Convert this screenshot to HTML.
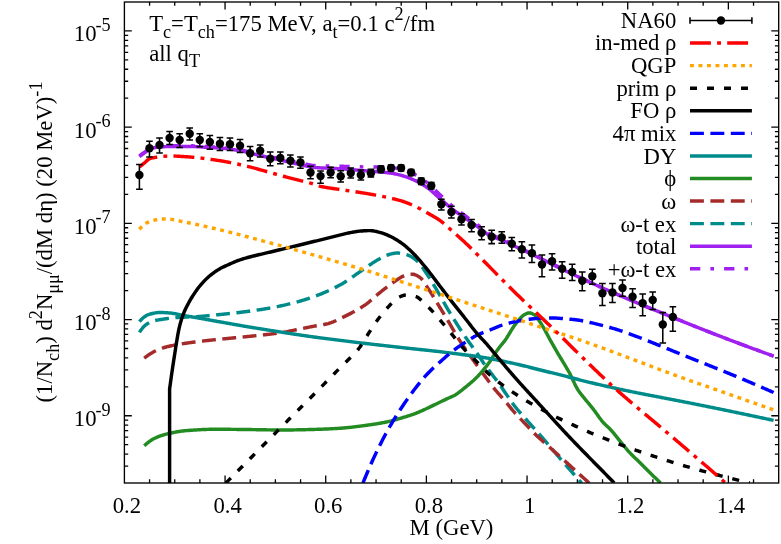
<!DOCTYPE html>
<html><head><meta charset="utf-8"><title>plot</title>
<style>
html,body{margin:0;padding:0;background:#fff;}
body{width:781px;height:544px;overflow:hidden;}
svg{display:block;will-change:transform;}
text{font-family:"Liberation Serif",serif;font-size:22.7px;fill:#000;}
.c{fill:none;stroke-width:3.45;stroke-linejoin:round;stroke-linecap:butt;}
</style></head><body>
<svg width="781" height="544" viewBox="0 0 781 544">
<rect x="0" y="0" width="781" height="544" fill="#fff"/>
<defs><clipPath id="cp"><rect x="124.4" y="2.0" width="654.3000000000001" height="481.0"/></clipPath></defs>

<path d="M149.57,483.0v-3.8 M149.57,2.0v3.8 M174.73,483.0v-3.8 M174.73,2.0v3.8 M199.90,483.0v-3.8 M199.90,2.0v3.8 M225.06,483.0v-7.4 M225.06,2.0v7.4 M250.23,483.0v-3.8 M250.23,2.0v3.8 M275.39,483.0v-3.8 M275.39,2.0v3.8 M300.56,483.0v-3.8 M300.56,2.0v3.8 M325.72,483.0v-7.4 M325.72,2.0v7.4 M350.89,483.0v-3.8 M350.89,2.0v3.8 M376.05,483.0v-3.8 M376.05,2.0v3.8 M401.22,483.0v-3.8 M401.22,2.0v3.8 M426.38,483.0v-7.4 M426.38,2.0v7.4 M451.55,483.0v-3.8 M451.55,2.0v3.8 M476.72,483.0v-3.8 M476.72,2.0v3.8 M501.88,483.0v-3.8 M501.88,2.0v3.8 M527.05,483.0v-7.4 M527.05,2.0v7.4 M552.21,483.0v-3.8 M552.21,2.0v3.8 M577.38,483.0v-3.8 M577.38,2.0v3.8 M602.54,483.0v-3.8 M602.54,2.0v3.8 M627.71,483.0v-7.4 M627.71,2.0v7.4 M652.87,483.0v-3.8 M652.87,2.0v3.8 M678.04,483.0v-3.8 M678.04,2.0v3.8 M703.20,483.0v-3.8 M703.20,2.0v3.8 M728.37,483.0v-7.4 M728.37,2.0v7.4 M753.53,483.0v-3.8 M753.53,2.0v3.8 M124.4,466.06h3.8 M778.7,466.06h-3.8 M124.4,454.04h3.8 M778.7,454.04h-3.8 M124.4,444.72h3.8 M778.7,444.72h-3.8 M124.4,437.10h3.8 M778.7,437.10h-3.8 M124.4,430.66h3.8 M778.7,430.66h-3.8 M124.4,425.08h3.8 M778.7,425.08h-3.8 M124.4,420.16h3.8 M778.7,420.16h-3.8 M124.4,415.76h7.4 M778.7,415.76h-7.4 M124.4,386.80h3.8 M778.7,386.80h-3.8 M124.4,369.86h3.8 M778.7,369.86h-3.8 M124.4,357.84h3.8 M778.7,357.84h-3.8 M124.4,348.52h3.8 M778.7,348.52h-3.8 M124.4,340.90h3.8 M778.7,340.90h-3.8 M124.4,334.46h3.8 M778.7,334.46h-3.8 M124.4,328.88h3.8 M778.7,328.88h-3.8 M124.4,323.96h3.8 M778.7,323.96h-3.8 M124.4,319.56h7.4 M778.7,319.56h-7.4 M124.4,290.60h3.8 M778.7,290.60h-3.8 M124.4,273.66h3.8 M778.7,273.66h-3.8 M124.4,261.64h3.8 M778.7,261.64h-3.8 M124.4,252.32h3.8 M778.7,252.32h-3.8 M124.4,244.70h3.8 M778.7,244.70h-3.8 M124.4,238.26h3.8 M778.7,238.26h-3.8 M124.4,232.68h3.8 M778.7,232.68h-3.8 M124.4,227.76h3.8 M778.7,227.76h-3.8 M124.4,223.36h7.4 M778.7,223.36h-7.4 M124.4,194.40h3.8 M778.7,194.40h-3.8 M124.4,177.46h3.8 M778.7,177.46h-3.8 M124.4,165.44h3.8 M778.7,165.44h-3.8 M124.4,156.12h3.8 M778.7,156.12h-3.8 M124.4,148.50h3.8 M778.7,148.50h-3.8 M124.4,142.06h3.8 M778.7,142.06h-3.8 M124.4,136.48h3.8 M778.7,136.48h-3.8 M124.4,131.56h3.8 M778.7,131.56h-3.8 M124.4,127.16h7.4 M778.7,127.16h-7.4 M124.4,98.20h3.8 M778.7,98.20h-3.8 M124.4,81.26h3.8 M778.7,81.26h-3.8 M124.4,69.24h3.8 M778.7,69.24h-3.8 M124.4,59.92h3.8 M778.7,59.92h-3.8 M124.4,52.30h3.8 M778.7,52.30h-3.8 M124.4,45.86h3.8 M778.7,45.86h-3.8 M124.4,40.28h3.8 M778.7,40.28h-3.8 M124.4,35.36h3.8 M778.7,35.36h-3.8 M124.4,30.96h7.4 M778.7,30.96h-7.4" stroke="#000" stroke-width="1.3" fill="none"/>
<g clip-path="url(#cp)">
<path class="c" d="M139.40,155.98 L140.40,155.23 L141.40,154.48 L142.40,153.73 L143.40,153.00 L144.40,152.27 L145.40,151.55 L146.40,150.76 L147.40,149.97 L148.40,149.24 L149.40,148.62 L150.40,148.19 L151.40,147.83 L152.40,147.53 L153.40,147.26 L154.40,147.05 L155.40,146.87 L156.40,146.72 L157.40,146.59 L158.40,146.48 L159.40,146.38 L160.40,146.30 L161.40,146.23 L162.40,146.16 L163.40,146.09 L164.40,146.02 L165.40,145.96 L166.40,145.91 L167.40,145.87 L168.40,145.84 L169.40,145.82 L170.40,145.82 L171.40,145.82 L172.40,145.82 L173.40,145.81 L174.40,145.81 L175.40,145.81 L176.40,145.81 L177.40,145.81 L178.40,145.81 L179.40,145.81 L180.40,145.81 L181.40,145.81 L182.40,145.80 L183.40,145.80 L184.40,145.80 L185.40,145.80 L186.40,145.80 L187.40,145.80 L188.40,145.80 L189.40,145.80 L190.40,145.80 L191.40,145.81 L192.40,145.82 L193.40,145.85 L194.40,145.88 L195.40,145.92 L196.40,145.96 L197.40,146.01 L198.40,146.07 L199.40,146.12 L200.40,146.18 L201.40,146.25 L202.40,146.31 L203.40,146.37 L204.40,146.44 L205.40,146.50 L206.40,146.56 L207.40,146.62 L208.40,146.68 L209.40,146.73 L210.40,146.78 L211.40,146.82 L212.40,146.86 L213.40,146.90 L214.40,146.94 L215.40,146.99 L216.40,147.03 L217.40,147.08 L218.40,147.13 L219.40,147.19 L220.40,147.26 L221.40,147.33 L222.40,147.42 L223.40,147.51 L224.40,147.61 L225.40,147.72 L226.40,147.84 L227.40,147.96 L228.40,148.09 L229.40,148.22 L230.40,148.36 L231.40,148.51 L232.40,148.66 L233.40,148.81 L234.40,148.97 L235.40,149.12 L236.40,149.29 L237.40,149.45 L238.40,149.62 L239.40,149.79 L240.40,149.95 L241.40,150.13 L242.40,150.32 L243.40,150.53 L244.40,150.74 L245.40,150.96 L246.40,151.18 L247.40,151.42 L248.40,151.65 L249.40,151.90 L250.40,152.14 L251.40,152.39 L252.40,152.64 L253.40,152.89 L254.40,153.14 L255.40,153.39 L256.40,153.63 L257.40,153.87 L258.40,154.11 L259.40,154.33 L260.40,154.56 L261.40,154.78 L262.40,155.00 L263.40,155.22 L264.40,155.43 L265.40,155.65 L266.40,155.86 L267.40,156.08 L268.40,156.29 L269.40,156.51 L270.40,156.72 L271.40,156.93 L272.40,157.14 L273.40,157.36 L274.40,157.57 L275.40,157.78 L276.40,157.99 L277.40,158.20 L278.40,158.41 L279.40,158.62 L280.40,158.84 L281.40,159.05 L282.40,159.26 L283.40,159.48 L284.40,159.69 L285.40,159.91 L286.40,160.12 L287.40,160.34 L288.40,160.55 L289.40,160.77 L290.40,160.98 L291.40,161.19 L292.40,161.40 L293.40,161.61 L294.40,161.82 L295.40,162.03 L296.40,162.23 L297.40,162.43 L298.40,162.63 L299.40,162.83 L300.40,163.02 L301.40,163.22 L302.40,163.43 L303.40,163.65 L304.40,163.87 L305.40,164.08 L306.40,164.30 L307.40,164.51 L308.40,164.71 L309.40,164.89 L310.40,165.07 L311.40,165.23 L312.40,165.37 L313.40,165.49 L314.40,165.58 L315.40,165.65 L316.40,165.71 L317.40,165.76 L318.40,165.81 L319.40,165.85 L320.40,165.89 L321.40,165.92 L322.40,165.95 L323.40,165.98 L324.40,166.00 L325.40,166.02 L326.40,166.03 L327.40,166.05 L328.40,166.06 L329.40,166.08 L330.40,166.09 L331.40,166.10 L332.40,166.11 L333.40,166.12 L334.40,166.14 L335.40,166.15 L336.40,166.17 L337.40,166.18 L338.40,166.20 L339.40,166.23 L340.40,166.25 L341.40,166.28 L342.40,166.31 L343.40,166.34 L344.40,166.36 L345.40,166.39 L346.40,166.42 L347.40,166.45 L348.40,166.48 L349.40,166.51 L350.40,166.54 L351.40,166.57 L352.40,166.60 L353.40,166.63 L354.40,166.66 L355.40,166.68 L356.40,166.71 L357.40,166.74 L358.40,166.76 L359.40,166.79 L360.40,166.81 L361.40,166.83 L362.40,166.85 L363.40,166.87 L364.40,166.88 L365.40,166.89 L366.40,166.90 L367.40,166.91 L368.40,166.91 L369.40,166.92 L370.40,166.92 L371.40,166.92 L372.40,166.93 L373.40,166.93 L374.40,166.94 L375.40,166.95 L376.40,166.96 L377.40,166.98 L378.40,166.99 L379.40,167.01 L380.40,167.02 L381.40,167.03 L382.40,167.05 L383.40,167.06 L384.40,167.09 L385.40,167.12 L386.40,167.17 L387.40,167.23 L388.40,167.29 L389.40,167.37 L390.40,167.46 L391.40,167.55 L392.40,167.67 L393.40,167.80 L394.40,167.95 L395.40,168.11 L396.40,168.30 L397.40,168.49 L398.40,168.71 L399.40,168.94 L400.40,169.18 L401.40,169.43 L402.40,169.70 L403.40,169.98 L404.40,170.28 L405.40,170.60 L406.40,170.93 L407.40,171.28 L408.40,171.65 L409.40,172.04 L410.40,172.45 L411.40,172.88 L412.40,173.34 L413.40,173.80 L414.40,174.29 L415.40,174.79 L416.40,175.31 L417.40,175.86 L418.40,176.43 L419.40,177.04 L420.40,177.69 L421.40,178.36 L422.40,179.06 L423.40,179.79 L424.40,180.53 L425.40,181.29 L426.40,182.06 L427.40,182.84 L428.40,183.64 L429.40,184.49 L430.40,185.38 L431.40,186.31 L432.40,187.26 L433.40,188.23 L434.40,189.21 L435.40,190.20 L436.40,191.20 L437.40,192.18 L438.40,193.16 L439.40,194.12 L440.40,195.06 L441.40,196.01 L442.40,196.95 L443.40,197.90 L444.40,198.85 L445.40,199.80 L446.40,200.73 L447.40,201.66 L448.40,202.58 L449.40,203.48 L450.40,204.36 L451.40,205.22 L452.40,206.07 L453.40,206.89 L454.40,207.69 L455.40,208.48 L456.40,209.25 L457.40,210.01 L458.40,210.76 L459.40,211.50 L460.40,212.23 L461.40,212.97 L462.40,213.70 L463.40,214.43 L464.40,215.17 L465.40,215.91 L466.40,216.65 L467.40,217.38 L468.40,218.12 L469.40,218.85 L470.40,219.58 L471.40,220.31 L472.40,221.03 L473.40,221.76 L474.40,222.49 L475.40,223.22 L476.40,223.95 L477.40,224.69 L478.40,225.44 L479.40,226.22 L480.40,227.01 L481.40,227.82 L482.40,228.64 L483.40,229.44 L484.40,230.23 L485.40,231.00 L486.40,231.74 L487.40,232.44 L488.40,233.09 L489.40,233.69 L490.40,234.23 L491.40,234.73 L492.40,235.19 L493.40,235.62 L494.40,236.03 L495.40,236.42 L496.40,236.80 L497.40,237.18 L498.40,237.55 L499.40,237.94 L500.40,238.33 L501.40,238.75 L502.40,239.18 L503.40,239.65 L504.40,240.12 L505.40,240.60 L506.40,241.10 L507.40,241.60 L508.40,242.11 L509.40,242.62 L510.40,243.13 L511.40,243.64 L512.40,244.15 L513.40,244.66 L514.40,245.16 L515.40,245.65 L516.40,246.15 L517.40,246.64 L518.40,247.12 L519.40,247.61 L520.40,248.10 L521.40,248.58 L522.40,249.07 L523.40,249.56 L524.40,250.04 L525.40,250.53 L526.40,251.01 L527.40,251.50 L528.40,251.98 L529.40,252.47 L530.40,252.96 L531.40,253.44 L532.40,253.93 L533.40,254.42 L534.40,254.90 L535.40,255.39 L536.40,255.88 L537.40,256.37 L538.40,256.86 L539.40,257.35 L540.40,257.85 L541.40,258.34 L542.40,258.84 L543.40,259.34 L544.40,259.84 L545.40,260.34 L546.40,260.84 L547.40,261.34 L548.40,261.85 L549.40,262.35 L550.40,262.85 L551.40,263.36 L552.40,263.86 L553.40,264.37 L554.40,264.87 L555.40,265.38 L556.40,265.88 L557.40,266.38 L558.40,266.88 L559.40,267.38 L560.40,267.88 L561.40,268.37 L562.40,268.87 L563.40,269.36 L564.40,269.85 L565.40,270.33 L566.40,270.82 L567.40,271.31 L568.40,271.79 L569.40,272.27 L570.40,272.76 L571.40,273.24 L572.40,273.72 L573.40,274.20 L574.40,274.68 L575.40,275.16 L576.40,275.63 L577.40,276.11 L578.40,276.58 L579.40,277.06 L580.40,277.53 L581.40,278.00 L582.40,278.47 L583.40,278.94 L584.40,279.41 L585.40,279.88 L586.40,280.64 L587.40,281.10 L588.40,281.56 L589.40,282.02 L590.40,282.47 L591.40,282.93 L592.40,283.39 L593.40,283.84 L594.40,284.30 L595.40,284.75 L596.40,285.20 L597.40,285.65 L598.40,286.11 L599.40,286.56 L600.40,287.00 L601.40,287.45 L602.40,287.90 L603.40,288.35 L604.40,288.79 L605.40,289.24 L606.40,289.68 L607.40,290.12 L608.40,290.56 L609.40,291.01 L610.40,291.45 L611.40,291.88 L612.40,292.32 L613.40,292.76 L614.40,293.20 L615.40,293.63 L616.40,294.07 L617.40,294.50 L618.40,294.93 L619.40,295.37 L620.40,295.80 L621.40,296.23 L622.40,296.66 L623.40,297.09 L624.40,297.51 L625.40,297.94 L626.40,298.37 L627.40,298.79 L628.40,299.22 L629.40,299.64 L630.40,300.06 L631.40,300.49 L632.40,300.91 L633.40,301.33 L634.40,301.75 L635.40,302.17 L636.40,302.58 L637.40,303.00 L638.40,303.42 L639.40,303.84 L640.40,304.25 L641.40,304.66 L642.40,305.08 L643.40,305.49 L644.40,305.90 L645.40,306.31 L646.40,306.71 L647.40,307.12 L648.40,307.53 L649.40,307.93 L650.40,308.34 L651.40,308.74 L652.40,309.15 L653.40,309.55 L654.40,309.95 L655.40,310.36 L656.40,310.76 L657.40,311.17 L658.40,311.57 L659.40,311.97 L660.40,312.38 L661.40,312.79 L662.40,313.19 L663.40,313.60 L664.40,314.01 L665.40,314.41 L666.40,314.82 L667.40,315.23 L668.40,315.64 L669.40,316.04 L670.40,316.45 L671.40,316.86 L672.40,317.26 L673.40,317.67 L674.40,318.08 L675.40,318.49 L676.40,318.89 L677.40,319.30 L678.40,319.70 L679.40,320.11 L680.40,320.51 L681.40,320.92 L682.40,321.32 L683.40,321.73 L684.40,322.13 L685.40,322.53 L686.40,322.93 L687.40,323.33 L688.40,323.74 L689.40,324.14 L690.40,324.54 L691.40,324.94 L692.40,325.34 L693.40,325.74 L694.40,326.14 L695.40,326.54 L696.40,326.94 L697.40,327.34 L698.40,327.74 L699.40,328.13 L700.40,328.53 L701.40,328.93 L702.40,329.32 L703.40,329.72 L704.40,330.12 L705.40,330.51 L706.40,330.90 L707.40,331.30 L708.40,331.69 L709.40,332.08 L710.40,332.47 L711.40,332.86 L712.40,333.25 L713.40,333.64 L714.40,334.03 L715.40,334.42 L716.40,334.81 L717.40,335.19 L718.40,335.58 L719.40,335.96 L720.40,336.35 L721.40,336.73 L722.40,337.12 L723.40,337.50 L724.40,337.88 L725.40,338.27 L726.40,338.65 L727.40,339.03 L728.40,339.41 L729.40,339.79 L730.40,340.17 L731.40,340.55 L732.40,340.93 L733.40,341.30 L734.40,341.68 L735.40,342.06 L736.40,342.44 L737.40,342.81 L738.40,343.19 L739.40,343.56 L740.40,343.94 L741.40,344.31 L742.40,344.68 L743.40,345.06 L744.40,345.43 L745.40,345.80 L746.40,346.17 L747.40,346.54 L748.40,346.91 L749.40,347.28 L750.40,347.65 L751.40,348.02 L752.40,348.39 L753.40,348.76 L754.40,349.13 L755.40,349.49 L756.40,349.86 L757.40,350.23 L758.40,350.59 L759.40,350.96 L760.40,351.32 L761.40,351.69 L762.40,352.05 L763.40,352.41 L764.40,352.78 L765.40,353.14 L766.40,353.50 L767.40,353.86 L768.40,354.22 L769.40,354.58 L770.40,354.94 L771.40,355.30 L772.40,355.66 L773.40,356.01 L773.60,356.08" stroke="#a020f0" stroke-dasharray="10.3 10.1 3.6 10.1"/>
<path class="c" d="M139.40,156.60 L140.40,155.85 L141.40,155.11 L142.40,154.38 L143.40,153.65 L144.40,152.93 L145.40,152.21 L146.40,151.42 L147.40,150.63 L148.40,149.89 L149.40,149.28 L150.40,148.84 L151.40,148.49 L152.40,148.18 L153.40,147.92 L154.40,147.71 L155.40,147.53 L156.40,147.38 L157.40,147.25 L158.40,147.14 L159.40,147.05 L160.40,146.97 L161.40,146.90 L162.40,146.82 L163.40,146.76 L164.40,146.69 L165.40,146.64 L166.40,146.59 L167.40,146.55 L168.40,146.52 L169.40,146.50 L170.40,146.50 L171.40,146.50 L172.40,146.50 L173.40,146.50 L174.40,146.50 L175.40,146.50 L176.40,146.50 L177.40,146.50 L178.40,146.50 L179.40,146.50 L180.40,146.50 L181.40,146.50 L182.40,146.50 L183.40,146.50 L184.40,146.50 L185.40,146.50 L186.40,146.50 L187.40,146.50 L188.40,146.50 L189.40,146.50 L190.40,146.50 L191.40,146.51 L192.40,146.53 L193.40,146.55 L194.40,146.59 L195.40,146.63 L196.40,146.67 L197.40,146.72 L198.40,146.78 L199.40,146.84 L200.40,146.90 L201.40,146.96 L202.40,147.03 L203.40,147.10 L204.40,147.16 L205.40,147.23 L206.40,147.29 L207.40,147.36 L208.40,147.41 L209.40,147.47 L210.40,147.52 L211.40,147.57 L212.40,147.61 L213.40,147.65 L214.40,147.70 L215.40,147.74 L216.40,147.79 L217.40,147.84 L218.40,147.90 L219.40,147.96 L220.40,148.03 L221.40,148.11 L222.40,148.19 L223.40,148.29 L224.40,148.40 L225.40,148.51 L226.40,148.63 L227.40,148.76 L228.40,148.89 L229.40,149.03 L230.40,149.17 L231.40,149.32 L232.40,149.48 L233.40,149.63 L234.40,149.80 L235.40,149.96 L236.40,150.13 L237.40,150.30 L238.40,150.47 L239.40,150.65 L240.40,150.82 L241.40,151.01 L242.40,151.20 L243.40,151.41 L244.40,151.63 L245.40,151.86 L246.40,152.09 L247.40,152.33 L248.40,152.58 L249.40,152.83 L250.40,153.08 L251.40,153.34 L252.40,153.60 L253.40,153.86 L254.40,154.12 L255.40,154.37 L256.40,154.63 L257.40,154.88 L258.40,155.12 L259.40,155.36 L260.40,155.59 L261.40,155.82 L262.40,156.05 L263.40,156.28 L264.40,156.51 L265.40,156.73 L266.40,156.96 L267.40,157.18 L268.40,157.41 L269.40,157.63 L270.40,157.85 L271.40,158.08 L272.40,158.30 L273.40,158.52 L274.40,158.75 L275.40,158.97 L276.40,159.19 L277.40,159.42 L278.40,159.64 L279.40,159.87 L280.40,160.09 L281.40,160.32 L282.40,160.54 L283.40,160.77 L284.40,161.00 L285.40,161.23 L286.40,161.46 L287.40,161.69 L288.40,161.92 L289.40,162.15 L290.40,162.38 L291.40,162.60 L292.40,162.83 L293.40,163.06 L294.40,163.28 L295.40,163.50 L296.40,163.72 L297.40,163.94 L298.40,164.16 L299.40,164.37 L300.40,164.59 L301.40,164.81 L302.40,165.04 L303.40,165.27 L304.40,165.51 L305.40,165.75 L306.40,165.98 L307.40,166.22 L308.40,166.44 L309.40,166.65 L310.40,166.85 L311.40,167.03 L312.40,167.19 L313.40,167.33 L314.40,167.44 L315.40,167.53 L316.40,167.61 L317.40,167.68 L318.40,167.75 L319.40,167.81 L320.40,167.87 L321.40,167.93 L322.40,167.98 L323.40,168.03 L324.40,168.07 L325.40,168.11 L326.40,168.15 L327.40,168.19 L328.40,168.23 L329.40,168.27 L330.40,168.31 L331.40,168.34 L332.40,168.38 L333.40,168.42 L334.40,168.46 L335.40,168.51 L336.40,168.55 L337.40,168.60 L338.40,168.66 L339.40,168.71 L340.40,168.77 L341.40,168.84 L342.40,168.91 L343.40,168.98 L344.40,169.05 L345.40,169.12 L346.40,169.20 L347.40,169.27 L348.40,169.35 L349.40,169.43 L350.40,169.52 L351.40,169.60 L352.40,169.68 L353.40,169.77 L354.40,169.85 L355.40,169.94 L356.40,170.03 L357.40,170.11 L358.40,170.20 L359.40,170.28 L360.40,170.37 L361.40,170.45 L362.40,170.54 L363.40,170.62 L364.40,170.70 L365.40,170.78 L366.40,170.86 L367.40,170.94 L368.40,171.02 L369.40,171.09 L370.40,171.17 L371.40,171.25 L372.40,171.33 L373.40,171.41 L374.40,171.49 L375.40,171.57 L376.40,171.65 L377.40,171.74 L378.40,171.83 L379.40,171.92 L380.40,172.00 L381.40,172.09 L382.40,172.18 L383.40,172.27 L384.40,172.36 L385.40,172.46 L386.40,172.56 L387.40,172.67 L388.40,172.79 L389.40,172.92 L390.40,173.06 L391.40,173.21 L392.40,173.38 L393.40,173.56 L394.40,173.76 L395.40,173.97 L396.40,174.19 L397.40,174.42 L398.40,174.66 L399.40,174.92 L400.40,175.18 L401.40,175.45 L402.40,175.72 L403.40,176.01 L404.40,176.31 L405.40,176.64 L406.40,176.98 L407.40,177.33 L408.40,177.71 L409.40,178.09 L410.40,178.50 L411.40,178.91 L412.40,179.34 L413.40,179.78 L414.40,180.23 L415.40,180.69 L416.40,181.17 L417.40,181.67 L418.40,182.19 L419.40,182.73 L420.40,183.29 L421.40,183.87 L422.40,184.47 L423.40,185.08 L424.40,185.72 L425.40,186.37 L426.40,187.04 L427.40,187.73 L428.40,188.45 L429.40,189.22 L430.40,190.02 L431.40,190.87 L432.40,191.74 L433.40,192.63 L434.40,193.54 L435.40,194.46 L436.40,195.38 L437.40,196.30 L438.40,197.20 L439.40,198.08 L440.40,198.94 L441.40,199.81 L442.40,200.68 L443.40,201.55 L444.40,202.42 L445.40,203.30 L446.40,204.17 L447.40,205.03 L448.40,205.88 L449.40,206.71 L450.40,207.54 L451.40,208.34 L452.40,209.12 L453.40,209.88 L454.40,210.63 L455.40,211.36 L456.40,212.07 L457.40,212.77 L458.40,213.47 L459.40,214.15 L460.40,214.84 L461.40,215.52 L462.40,216.20 L463.40,216.89 L464.40,217.58 L465.40,218.28 L466.40,218.98 L467.40,219.67 L468.40,220.37 L469.40,221.06 L470.40,221.75 L471.40,222.45 L472.40,223.14 L473.40,223.84 L474.40,224.53 L475.40,225.23 L476.40,225.93 L477.40,226.63 L478.40,227.35 L479.40,228.09 L480.40,228.86 L481.40,229.64 L482.40,230.42 L483.40,231.20 L484.40,231.96 L485.40,232.71 L486.40,233.42 L487.40,234.09 L488.40,234.72 L489.40,235.29 L490.40,235.80 L491.40,236.26 L492.40,236.69 L493.40,237.09 L494.40,237.47 L495.40,237.83 L496.40,238.18 L497.40,238.52 L498.40,238.87 L499.40,239.22 L500.40,239.58 L501.40,239.97 L502.40,240.37 L503.40,240.81 L504.40,241.25 L505.40,241.71 L506.40,242.18 L507.40,242.65 L508.40,243.14 L509.40,243.62 L510.40,244.11 L511.40,244.61 L512.40,245.10 L513.40,245.58 L514.40,246.07 L515.40,246.54 L516.40,247.02 L517.40,247.49 L518.40,247.97 L519.40,248.44 L520.40,248.91 L521.40,249.39 L522.40,249.86 L523.40,250.33 L524.40,250.81 L525.40,251.28 L526.40,251.75 L527.40,252.23 L528.40,252.70 L529.40,253.18 L530.40,253.65 L531.40,254.13 L532.40,254.61 L533.40,255.08 L534.40,255.56 L535.40,256.04 L536.40,256.52 L537.40,257.00 L538.40,257.48 L539.40,257.96 L540.40,258.45 L541.40,258.93 L542.40,259.42 L543.40,259.91 L544.40,260.40 L545.40,260.89 L546.40,261.38 L547.40,261.88 L548.40,262.37 L549.40,262.87 L550.40,263.37 L551.40,263.86 L552.40,264.36 L553.40,264.85 L554.40,265.35 L555.40,265.85 L556.40,266.34 L557.40,266.84 L558.40,267.33 L559.40,267.82 L560.40,268.31 L561.40,268.80 L562.40,269.29 L563.40,269.77 L564.40,270.25 L565.40,270.74 L566.40,271.22 L567.40,271.69 L568.40,272.17 L569.40,272.65 L570.40,273.13 L571.40,273.60 L572.40,274.08 L573.40,274.55 L574.40,275.03 L575.40,275.50 L576.40,275.97 L577.40,276.44 L578.40,276.91 L579.40,277.38 L580.40,277.85 L581.40,278.31 L582.40,278.78 L583.40,279.25 L584.40,279.71 L585.40,280.17 L586.40,280.64 L587.40,281.10 L588.40,281.56 L589.40,282.02 L590.40,282.47 L591.40,282.93 L592.40,283.39 L593.40,283.84 L594.40,284.30 L595.40,284.75 L596.40,285.20 L597.40,285.65 L598.40,286.11 L599.40,286.56 L600.40,287.00 L601.40,287.45 L602.40,287.90 L603.40,288.35 L604.40,288.79 L605.40,289.24 L606.40,289.68 L607.40,290.12 L608.40,290.56 L609.40,291.01 L610.40,291.45 L611.40,291.88 L612.40,292.32 L613.40,292.76 L614.40,293.20 L615.40,293.63 L616.40,294.07 L617.40,294.50 L618.40,294.93 L619.40,295.37 L620.40,295.80 L621.40,296.23 L622.40,296.66 L623.40,297.09 L624.40,297.51 L625.40,297.94 L626.40,298.37 L627.40,298.79 L628.40,299.22 L629.40,299.64 L630.40,300.06 L631.40,300.49 L632.40,300.91 L633.40,301.33 L634.40,301.75 L635.40,302.17 L636.40,302.58 L637.40,303.00 L638.40,303.42 L639.40,303.84 L640.40,304.25 L641.40,304.66 L642.40,305.08 L643.40,305.49 L644.40,305.90 L645.40,306.31 L646.40,306.71 L647.40,307.12 L648.40,307.53 L649.40,307.93 L650.40,308.34 L651.40,308.74 L652.40,309.15 L653.40,309.55 L654.40,309.95 L655.40,310.36 L656.40,310.76 L657.40,311.17 L658.40,311.57 L659.40,311.97 L660.40,312.38 L661.40,312.79 L662.40,313.19 L663.40,313.60 L664.40,314.01 L665.40,314.41 L666.40,314.82 L667.40,315.23 L668.40,315.64 L669.40,316.04 L670.40,316.45 L671.40,316.86 L672.40,317.26 L673.40,317.67 L674.40,318.08 L675.40,318.49 L676.40,318.89 L677.40,319.30 L678.40,319.70 L679.40,320.11 L680.40,320.51 L681.40,320.92 L682.40,321.32 L683.40,321.73 L684.40,322.13 L685.40,322.53 L686.40,322.93 L687.40,323.33 L688.40,323.74 L689.40,324.14 L690.40,324.54 L691.40,324.94 L692.40,325.34 L693.40,325.74 L694.40,326.14 L695.40,326.54 L696.40,326.94 L697.40,327.34 L698.40,327.74 L699.40,328.13 L700.40,328.53 L701.40,328.93 L702.40,329.32 L703.40,329.72 L704.40,330.12 L705.40,330.51 L706.40,330.90 L707.40,331.30 L708.40,331.69 L709.40,332.08 L710.40,332.47 L711.40,332.86 L712.40,333.25 L713.40,333.64 L714.40,334.03 L715.40,334.42 L716.40,334.81 L717.40,335.19 L718.40,335.58 L719.40,335.96 L720.40,336.35 L721.40,336.73 L722.40,337.12 L723.40,337.50 L724.40,337.88 L725.40,338.27 L726.40,338.65 L727.40,339.03 L728.40,339.41 L729.40,339.79 L730.40,340.17 L731.40,340.55 L732.40,340.93 L733.40,341.30 L734.40,341.68 L735.40,342.06 L736.40,342.44 L737.40,342.81 L738.40,343.19 L739.40,343.56 L740.40,343.94 L741.40,344.31 L742.40,344.68 L743.40,345.06 L744.40,345.43 L745.40,345.80 L746.40,346.17 L747.40,346.54 L748.40,346.91 L749.40,347.28 L750.40,347.65 L751.40,348.02 L752.40,348.39 L753.40,348.76 L754.40,349.13 L755.40,349.49 L756.40,349.86 L757.40,350.23 L758.40,350.59 L759.40,350.96 L760.40,351.32 L761.40,351.69 L762.40,352.05 L763.40,352.41 L764.40,352.78 L765.40,353.14 L766.40,353.50 L767.40,353.86 L768.40,354.22 L769.40,354.58 L770.40,354.94 L771.40,355.30 L772.40,355.66 L773.40,356.01 L773.60,356.08" stroke="#a020f0"/>
<path class="c" d="M139.40,332.40 L140.40,330.91 L141.40,329.50 L142.40,328.19 L143.40,327.02 L144.40,326.01 L145.40,325.19 L146.40,324.44 L147.40,323.75 L148.40,323.12 L149.40,322.56 L150.40,322.06 L151.40,321.63 L152.40,321.28 L153.40,320.99 L154.40,320.73 L155.40,320.49 L156.40,320.27 L157.40,320.08 L158.40,319.90 L159.40,319.73 L160.40,319.57 L161.40,319.42 L162.40,319.26 L163.40,319.12 L164.40,318.97 L165.40,318.82 L166.40,318.68 L167.40,318.55 L168.40,318.41 L169.40,318.29 L170.40,318.16 L171.40,318.05 L172.40,317.94 L173.40,317.84 L174.40,317.74 L175.40,317.65 L176.40,317.58 L177.40,317.51 L178.40,317.45 L179.40,317.39 L180.40,317.34 L181.40,317.29 L182.40,317.25 L183.40,317.21 L184.40,317.18 L185.40,317.14 L186.40,317.11 L187.40,317.07 L188.40,317.04 L189.40,317.00 L190.40,316.96 L191.40,316.92 L192.40,316.88 L193.40,316.83 L194.40,316.78 L195.40,316.73 L196.40,316.67 L197.40,316.60 L198.40,316.53 L199.40,316.46 L200.40,316.38 L201.40,316.30 L202.40,316.22 L203.40,316.13 L204.40,316.05 L205.40,315.95 L206.40,315.86 L207.40,315.77 L208.40,315.67 L209.40,315.57 L210.40,315.47 L211.40,315.37 L212.40,315.27 L213.40,315.17 L214.40,315.07 L215.40,314.96 L216.40,314.86 L217.40,314.76 L218.40,314.66 L219.40,314.56 L220.40,314.46 L221.40,314.36 L222.40,314.26 L223.40,314.16 L224.40,314.06 L225.40,313.96 L226.40,313.86 L227.40,313.75 L228.40,313.65 L229.40,313.54 L230.40,313.44 L231.40,313.33 L232.40,313.22 L233.40,313.11 L234.40,313.00 L235.40,312.89 L236.40,312.78 L237.40,312.67 L238.40,312.55 L239.40,312.43 L240.40,312.32 L241.40,312.20 L242.40,312.07 L243.40,311.95 L244.40,311.83 L245.40,311.70 L246.40,311.57 L247.40,311.44 L248.40,311.31 L249.40,311.18 L250.40,311.04 L251.40,310.91 L252.40,310.77 L253.40,310.63 L254.40,310.49 L255.40,310.34 L256.40,310.20 L257.40,310.05 L258.40,309.90 L259.40,309.75 L260.40,309.60 L261.40,309.44 L262.40,309.28 L263.40,309.12 L264.40,308.96 L265.40,308.79 L266.40,308.63 L267.40,308.45 L268.40,308.28 L269.40,308.11 L270.40,307.93 L271.40,307.75 L272.40,307.56 L273.40,307.37 L274.40,307.18 L275.40,306.99 L276.40,306.79 L277.40,306.59 L278.40,306.38 L279.40,306.17 L280.40,305.96 L281.40,305.75 L282.40,305.53 L283.40,305.31 L284.40,305.08 L285.40,304.85 L286.40,304.62 L287.40,304.39 L288.40,304.15 L289.40,303.91 L290.40,303.66 L291.40,303.42 L292.40,303.17 L293.40,302.91 L294.40,302.66 L295.40,302.40 L296.40,302.13 L297.40,301.86 L298.40,301.59 L299.40,301.31 L300.40,301.02 L301.40,300.73 L302.40,300.44 L303.40,300.13 L304.40,299.83 L305.40,299.52 L306.40,299.20 L307.40,298.88 L308.40,298.55 L309.40,298.22 L310.40,297.88 L311.40,297.53 L312.40,297.18 L313.40,296.83 L314.40,296.47 L315.40,296.10 L316.40,295.73 L317.40,295.35 L318.40,294.97 L319.40,294.58 L320.40,294.18 L321.40,293.78 L322.40,293.37 L323.40,292.95 L324.40,292.52 L325.40,292.09 L326.40,291.66 L327.40,291.21 L328.40,290.76 L329.40,290.30 L330.40,289.84 L331.40,289.36 L332.40,288.88 L333.40,288.40 L334.40,287.90 L335.40,287.40 L336.40,286.89 L337.40,286.38 L338.40,285.85 L339.40,285.32 L340.40,284.78 L341.40,284.22 L342.40,283.64 L343.40,283.04 L344.40,282.42 L345.40,281.78 L346.40,281.13 L347.40,280.47 L348.40,279.79 L349.40,279.11 L350.40,278.42 L351.40,277.72 L352.40,277.02 L353.40,276.32 L354.40,275.61 L355.40,274.91 L356.40,274.21 L357.40,273.52 L358.40,272.83 L359.40,272.15 L360.40,271.48 L361.40,270.80 L362.40,270.12 L363.40,269.42 L364.40,268.72 L365.40,268.01 L366.40,267.31 L367.40,266.60 L368.40,265.90 L369.40,265.20 L370.40,264.51 L371.40,263.83 L372.40,263.16 L373.40,262.50 L374.40,261.86 L375.40,261.24 L376.40,260.64 L377.40,260.06 L378.40,259.49 L379.40,258.91 L380.40,258.33 L381.40,257.76 L382.40,257.20 L383.40,256.68 L384.40,256.19 L385.40,255.75 L386.40,255.36 L387.40,255.03 L388.40,254.74 L389.40,254.45 L390.40,254.18 L391.40,253.91 L392.40,253.67 L393.40,253.45 L394.40,253.27 L395.40,253.13 L396.40,253.04 L397.40,253.00 L398.40,253.02 L399.40,253.10 L400.40,253.23 L401.40,253.39 L402.40,253.60 L403.40,253.83 L404.40,254.10 L405.40,254.38 L406.40,254.67 L407.40,254.97 L408.40,255.31 L409.40,255.72 L410.40,256.20 L411.40,256.75 L412.40,257.37 L413.40,258.03 L414.40,258.75 L415.40,259.52 L416.40,260.32 L417.40,261.16 L418.40,262.09 L419.40,263.19 L420.40,264.42 L421.40,265.76 L422.40,267.19 L423.40,268.69 L424.40,270.23 L425.40,271.78 L426.40,273.33 L427.40,274.85 L428.40,276.36 L429.40,277.90 L430.40,279.48 L431.40,281.09 L432.40,282.72 L433.40,284.37 L434.40,286.03 L435.40,287.71 L436.40,289.40 L437.40,291.08 L438.40,292.78 L439.40,294.51 L440.40,296.27 L441.40,298.04 L442.40,299.82 L443.40,301.60 L444.40,303.38 L445.40,305.14 L446.40,306.87 L447.40,308.58 L448.40,310.26 L449.40,311.93 L450.40,313.59 L451.40,315.24 L452.40,316.87 L453.40,318.49 L454.40,320.10 L455.40,321.69 L456.40,323.28 L457.40,324.84 L458.40,326.40 L459.40,327.94 L460.40,329.47 L461.40,330.99 L462.40,332.49 L463.40,333.98 L464.40,335.47 L465.40,336.94 L466.40,338.40 L467.40,339.86 L468.40,341.29 L469.40,342.71 L470.40,344.11 L471.40,345.50 L472.40,346.88 L473.40,348.26 L474.40,349.64 L475.40,351.03 L476.40,352.44 L477.40,353.86 L478.40,355.30 L479.40,356.78 L480.40,358.27 L481.40,359.76 L482.40,361.25 L483.40,362.71 L484.40,364.15 L485.40,365.56 L486.40,366.93 L487.40,368.27 L488.40,369.60 L489.40,370.91 L490.40,372.23 L491.40,373.54 L492.40,374.87 L493.40,376.19 L494.40,377.51 L495.40,378.82 L496.40,380.14 L497.40,381.46 L498.40,382.80 L499.40,384.17 L500.40,385.56 L501.40,387.00 L502.40,388.46 L503.40,389.94 L504.40,391.44 L505.40,392.93 L506.40,394.40 L507.40,395.86 L508.40,397.29 L509.40,398.74 L510.40,400.18 L511.40,401.61 L512.40,403.01 L513.40,404.39 L514.40,405.72 L515.40,407.01 L516.40,408.26 L517.40,409.48 L518.40,410.67 L519.40,411.84 L520.40,413.00 L521.40,414.14 L522.40,415.27 L523.40,416.39 L524.40,417.51 L525.40,418.63 L526.40,419.75 L527.40,420.89 L528.40,422.02 L529.40,423.15 L530.40,424.27 L531.40,425.39 L532.40,426.50 L533.40,427.61 L534.40,428.72 L535.40,429.83 L536.40,430.94 L537.40,432.06 L538.40,433.19 L539.40,434.32 L540.40,435.46 L541.40,436.60 L542.40,437.75 L543.40,438.91 L544.40,440.07 L545.40,441.23 L546.40,442.40 L547.40,443.57 L548.40,444.74 L549.40,445.91 L550.40,447.09 L551.40,448.26 L552.40,449.44 L553.40,450.62 L554.40,451.79 L555.40,452.97 L556.40,454.14 L557.40,455.31 L558.40,456.49 L559.40,457.65 L560.40,458.82 L561.40,459.98 L562.40,461.13 L563.40,462.29 L564.40,463.44 L565.40,464.59 L566.40,465.74 L567.40,466.89 L568.40,468.04 L569.40,469.18 L570.40,470.33 L571.40,471.47 L572.40,472.61 L573.40,473.75 L574.40,474.89 L575.40,476.03 L576.40,477.17 L577.40,478.30 L578.40,479.44 L579.40,480.57 L580.40,481.70 L581.40,482.83 L581.55,483.00" stroke="#008b8b" stroke-dasharray="13.9 6.5"/>
<path class="c" d="M144.25,358.25 L145.25,357.45 L146.25,356.67 L147.25,355.92 L148.25,355.20 L149.25,354.50 L150.25,353.84 L151.25,353.22 L152.25,352.64 L153.25,352.09 L154.25,351.55 L155.25,351.04 L156.25,350.53 L157.25,350.05 L158.25,349.60 L159.25,349.17 L160.25,348.77 L161.25,348.41 L162.25,348.08 L163.25,347.78 L164.25,347.49 L165.25,347.22 L166.25,346.96 L167.25,346.70 L168.25,346.46 L169.25,346.23 L170.25,346.01 L171.25,345.79 L172.25,345.58 L173.25,345.38 L174.25,345.19 L175.25,345.00 L176.25,344.81 L177.25,344.63 L178.25,344.46 L179.25,344.29 L180.25,344.12 L181.25,343.95 L182.25,343.79 L183.25,343.63 L184.25,343.47 L185.25,343.32 L186.25,343.17 L187.25,343.02 L188.25,342.87 L189.25,342.73 L190.25,342.59 L191.25,342.46 L192.25,342.32 L193.25,342.19 L194.25,342.06 L195.25,341.94 L196.25,341.81 L197.25,341.69 L198.25,341.57 L199.25,341.45 L200.25,341.33 L201.25,341.21 L202.25,341.10 L203.25,340.98 L204.25,340.87 L205.25,340.75 L206.25,340.64 L207.25,340.53 L208.25,340.42 L209.25,340.31 L210.25,340.20 L211.25,340.09 L212.25,339.98 L213.25,339.88 L214.25,339.78 L215.25,339.68 L216.25,339.58 L217.25,339.48 L218.25,339.38 L219.25,339.28 L220.25,339.19 L221.25,339.09 L222.25,338.99 L223.25,338.90 L224.25,338.80 L225.25,338.71 L226.25,338.61 L227.25,338.51 L228.25,338.42 L229.25,338.32 L230.25,338.22 L231.25,338.12 L232.25,338.02 L233.25,337.93 L234.25,337.83 L235.25,337.73 L236.25,337.63 L237.25,337.53 L238.25,337.43 L239.25,337.34 L240.25,337.24 L241.25,337.14 L242.25,337.05 L243.25,336.95 L244.25,336.85 L245.25,336.75 L246.25,336.66 L247.25,336.56 L248.25,336.46 L249.25,336.36 L250.25,336.26 L251.25,336.16 L252.25,336.05 L253.25,335.95 L254.25,335.85 L255.25,335.74 L256.25,335.64 L257.25,335.53 L258.25,335.42 L259.25,335.31 L260.25,335.20 L261.25,335.10 L262.25,334.99 L263.25,334.88 L264.25,334.77 L265.25,334.67 L266.25,334.56 L267.25,334.45 L268.25,334.34 L269.25,334.23 L270.25,334.11 L271.25,334.00 L272.25,333.88 L273.25,333.76 L274.25,333.64 L275.25,333.51 L276.25,333.38 L277.25,333.25 L278.25,333.12 L279.25,332.98 L280.25,332.84 L281.25,332.69 L282.25,332.54 L283.25,332.38 L284.25,332.21 L285.25,332.03 L286.25,331.83 L287.25,331.63 L288.25,331.43 L289.25,331.22 L290.25,331.00 L291.25,330.79 L292.25,330.57 L293.25,330.36 L294.25,330.15 L295.25,329.95 L296.25,329.75 L297.25,329.55 L298.25,329.35 L299.25,329.14 L300.25,328.94 L301.25,328.73 L302.25,328.53 L303.25,328.33 L304.25,328.12 L305.25,327.92 L306.25,327.72 L307.25,327.52 L308.25,327.32 L309.25,327.12 L310.25,326.92 L311.25,326.72 L312.25,326.53 L313.25,326.33 L314.25,326.14 L315.25,325.95 L316.25,325.77 L317.25,325.60 L318.25,325.44 L319.25,325.28 L320.25,325.13 L321.25,324.97 L322.25,324.80 L323.25,324.63 L324.25,324.45 L325.25,324.25 L326.25,324.04 L327.25,323.81 L328.25,323.55 L329.25,323.26 L330.25,322.94 L331.25,322.60 L332.25,322.22 L333.25,321.83 L334.25,321.41 L335.25,320.97 L336.25,320.52 L337.25,320.05 L338.25,319.58 L339.25,319.09 L340.25,318.60 L341.25,318.10 L342.25,317.60 L343.25,317.11 L344.25,316.62 L345.25,316.13 L346.25,315.64 L347.25,315.15 L348.25,314.65 L349.25,314.15 L350.25,313.64 L351.25,313.12 L352.25,312.59 L353.25,312.06 L354.25,311.52 L355.25,310.97 L356.25,310.41 L357.25,309.84 L358.25,309.26 L359.25,308.66 L360.25,308.06 L361.25,307.44 L362.25,306.81 L363.25,306.16 L364.25,305.50 L365.25,304.83 L366.25,304.12 L367.25,303.37 L368.25,302.58 L369.25,301.76 L370.25,300.92 L371.25,300.06 L372.25,299.18 L373.25,298.30 L374.25,297.41 L375.25,296.52 L376.25,295.64 L377.25,294.78 L378.25,293.93 L379.25,293.10 L380.25,292.30 L381.25,291.51 L382.25,290.72 L383.25,289.93 L384.25,289.14 L385.25,288.35 L386.25,287.57 L387.25,286.80 L388.25,286.03 L389.25,285.28 L390.25,284.54 L391.25,283.81 L392.25,283.10 L393.25,282.41 L394.25,281.74 L395.25,281.09 L396.25,280.42 L397.25,279.73 L398.25,279.05 L399.25,278.37 L400.25,277.72 L401.25,277.12 L402.25,276.58 L403.25,276.10 L404.25,275.72 L405.25,275.44 L406.25,275.19 L407.25,274.95 L408.25,274.74 L409.25,274.55 L410.25,274.40 L411.25,274.30 L412.25,274.25 L413.25,274.30 L414.25,274.49 L415.25,274.82 L416.25,275.26 L417.25,275.79 L418.25,276.38 L419.25,277.01 L420.25,277.67 L421.25,278.56 L422.25,279.70 L423.25,281.03 L424.25,282.50 L425.25,284.05 L426.25,285.62 L427.25,287.13 L428.25,288.60 L429.25,290.11 L430.25,291.67 L431.25,293.26 L432.25,294.87 L433.25,296.51 L434.25,298.16 L435.25,299.81 L436.25,301.46 L437.25,303.09 L438.25,304.72 L439.25,306.35 L440.25,307.99 L441.25,309.64 L442.25,311.29 L443.25,312.94 L444.25,314.60 L445.25,316.26 L446.25,317.92 L447.25,319.58 L448.25,321.25 L449.25,322.94 L450.25,324.64 L451.25,326.36 L452.25,328.07 L453.25,329.79 L454.25,331.50 L455.25,333.20 L456.25,334.89 L457.25,336.55 L458.25,338.20 L459.25,339.81 L460.25,341.39 L461.25,342.94 L462.25,344.45 L463.25,345.94 L464.25,347.41 L465.25,348.86 L466.25,350.31 L467.25,351.74 L468.25,353.16 L469.25,354.57 L470.25,355.97 L471.25,357.37 L472.25,358.76 L473.25,360.14 L474.25,361.52 L475.25,362.90 L476.25,364.28 L477.25,365.66 L478.25,367.03 L479.25,368.41 L480.25,369.79 L481.25,371.16 L482.25,372.54 L483.25,373.90 L484.25,375.27 L485.25,376.63 L486.25,377.98 L487.25,379.33 L488.25,380.67 L489.25,382.00 L490.25,383.33 L491.25,384.66 L492.25,385.98 L493.25,387.29 L494.25,388.57 L495.25,389.81 L496.25,391.01 L497.25,392.18 L498.25,393.34 L499.25,394.47 L500.25,395.60 L501.25,396.72 L502.25,397.85 L503.25,398.98 L504.25,400.13 L505.25,401.29 L506.25,402.49 L507.25,403.70 L508.25,404.92 L509.25,406.15 L510.25,407.37 L511.25,408.59 L512.25,409.80 L513.25,410.99 L514.25,412.15 L515.25,413.28 L516.25,414.38 L517.25,415.46 L518.25,416.52 L519.25,417.56 L520.25,418.60 L521.25,419.62 L522.25,420.65 L523.25,421.68 L524.25,422.72 L525.25,423.76 L526.25,424.82 L527.25,425.89 L528.25,426.96 L529.25,428.04 L530.25,429.11 L531.25,430.17 L532.25,431.22 L533.25,432.25 L534.25,433.26 L535.25,434.24 L536.25,435.21 L537.25,436.16 L538.25,437.09 L539.25,438.01 L540.25,438.92 L541.25,439.82 L542.25,440.72 L543.25,441.61 L544.25,442.49 L545.25,443.37 L546.25,444.26 L547.25,445.14 L548.25,446.03 L549.25,446.92 L550.25,447.83 L551.25,448.73 L552.25,449.63 L553.25,450.53 L554.25,451.43 L555.25,452.33 L556.25,453.22 L557.25,454.12 L558.25,455.02 L559.25,455.92 L560.25,456.82 L561.25,457.72 L562.25,458.62 L563.25,459.52 L564.25,460.42 L565.25,461.33 L566.25,462.23 L567.25,463.14 L568.25,464.05 L569.25,464.96 L570.25,465.87 L571.25,466.79 L572.25,467.70 L573.25,468.61 L574.25,469.52 L575.25,470.44 L576.25,471.35 L577.25,472.26 L578.25,473.16 L579.25,474.07 L580.25,474.97 L581.25,475.88 L582.25,476.78 L583.25,477.68 L584.25,478.58 L585.25,479.49 L586.25,480.39 L587.25,481.29 L588.25,482.19 L589.14,483.00" stroke="#a52a2a" stroke-dasharray="13.9 6.5"/>
<path class="c" d="M144.25,445.75 L145.25,444.86 L146.25,443.99 L147.25,443.16 L148.25,442.36 L149.25,441.59 L150.25,440.87 L151.25,440.20 L152.25,439.57 L153.25,439.01 L154.25,438.50 L155.25,438.02 L156.25,437.56 L157.25,437.13 L158.25,436.72 L159.25,436.33 L160.25,435.96 L161.25,435.61 L162.25,435.29 L163.25,434.98 L164.25,434.70 L165.25,434.44 L166.25,434.18 L167.25,433.93 L168.25,433.68 L169.25,433.44 L170.25,433.21 L171.25,432.98 L172.25,432.75 L173.25,432.54 L174.25,432.33 L175.25,432.13 L176.25,431.95 L177.25,431.77 L178.25,431.60 L179.25,431.44 L180.25,431.29 L181.25,431.15 L182.25,431.03 L183.25,430.91 L184.25,430.82 L185.25,430.73 L186.25,430.65 L187.25,430.57 L188.25,430.49 L189.25,430.41 L190.25,430.33 L191.25,430.26 L192.25,430.19 L193.25,430.12 L194.25,430.05 L195.25,429.98 L196.25,429.91 L197.25,429.85 L198.25,429.79 L199.25,429.73 L200.25,429.68 L201.25,429.63 L202.25,429.58 L203.25,429.53 L204.25,429.49 L205.25,429.45 L206.25,429.41 L207.25,429.38 L208.25,429.35 L209.25,429.32 L210.25,429.30 L211.25,429.28 L212.25,429.27 L213.25,429.26 L214.25,429.25 L215.25,429.25 L216.25,429.25 L217.25,429.25 L218.25,429.25 L219.25,429.26 L220.25,429.26 L221.25,429.27 L222.25,429.27 L223.25,429.28 L224.25,429.29 L225.25,429.29 L226.25,429.30 L227.25,429.31 L228.25,429.32 L229.25,429.33 L230.25,429.34 L231.25,429.35 L232.25,429.36 L233.25,429.37 L234.25,429.38 L235.25,429.39 L236.25,429.40 L237.25,429.42 L238.25,429.43 L239.25,429.44 L240.25,429.45 L241.25,429.46 L242.25,429.47 L243.25,429.48 L244.25,429.49 L245.25,429.50 L246.25,429.51 L247.25,429.53 L248.25,429.54 L249.25,429.55 L250.25,429.57 L251.25,429.58 L252.25,429.60 L253.25,429.61 L254.25,429.63 L255.25,429.65 L256.25,429.66 L257.25,429.68 L258.25,429.70 L259.25,429.72 L260.25,429.74 L261.25,429.75 L262.25,429.77 L263.25,429.79 L264.25,429.81 L265.25,429.82 L266.25,429.84 L267.25,429.86 L268.25,429.87 L269.25,429.89 L270.25,429.90 L271.25,429.92 L272.25,429.93 L273.25,429.94 L274.25,429.95 L275.25,429.96 L276.25,429.97 L277.25,429.98 L278.25,429.99 L279.25,429.99 L280.25,430.00 L281.25,430.00 L282.25,430.00 L283.25,430.00 L284.25,430.00 L285.25,429.99 L286.25,429.99 L287.25,429.98 L288.25,429.97 L289.25,429.96 L290.25,429.95 L291.25,429.94 L292.25,429.93 L293.25,429.91 L294.25,429.89 L295.25,429.88 L296.25,429.86 L297.25,429.84 L298.25,429.82 L299.25,429.80 L300.25,429.78 L301.25,429.75 L302.25,429.73 L303.25,429.71 L304.25,429.68 L305.25,429.66 L306.25,429.63 L307.25,429.61 L308.25,429.58 L309.25,429.55 L310.25,429.53 L311.25,429.50 L312.25,429.47 L313.25,429.45 L314.25,429.42 L315.25,429.39 L316.25,429.37 L317.25,429.34 L318.25,429.30 L319.25,429.27 L320.25,429.24 L321.25,429.20 L322.25,429.16 L323.25,429.13 L324.25,429.09 L325.25,429.04 L326.25,429.00 L327.25,428.96 L328.25,428.91 L329.25,428.86 L330.25,428.81 L331.25,428.76 L332.25,428.71 L333.25,428.65 L334.25,428.60 L335.25,428.54 L336.25,428.48 L337.25,428.42 L338.25,428.36 L339.25,428.30 L340.25,428.23 L341.25,428.16 L342.25,428.09 L343.25,428.01 L344.25,427.93 L345.25,427.84 L346.25,427.75 L347.25,427.65 L348.25,427.55 L349.25,427.45 L350.25,427.34 L351.25,427.23 L352.25,427.12 L353.25,427.00 L354.25,426.88 L355.25,426.76 L356.25,426.64 L357.25,426.51 L358.25,426.39 L359.25,426.26 L360.25,426.13 L361.25,426.00 L362.25,425.87 L363.25,425.73 L364.25,425.60 L365.25,425.47 L366.25,425.33 L367.25,425.19 L368.25,425.06 L369.25,424.91 L370.25,424.77 L371.25,424.63 L372.25,424.48 L373.25,424.33 L374.25,424.17 L375.25,424.01 L376.25,423.85 L377.25,423.69 L378.25,423.52 L379.25,423.35 L380.25,423.18 L381.25,423.00 L382.25,422.82 L383.25,422.63 L384.25,422.44 L385.25,422.24 L386.25,422.04 L387.25,421.84 L388.25,421.63 L389.25,421.41 L390.25,421.19 L391.25,420.96 L392.25,420.70 L393.25,420.43 L394.25,420.14 L395.25,419.84 L396.25,419.54 L397.25,419.24 L398.25,418.93 L399.25,418.62 L400.25,418.33 L401.25,418.03 L402.25,417.74 L403.25,417.45 L404.25,417.15 L405.25,416.86 L406.25,416.56 L407.25,416.26 L408.25,415.95 L409.25,415.63 L410.25,415.31 L411.25,414.97 L412.25,414.63 L413.25,414.27 L414.25,413.90 L415.25,413.52 L416.25,413.12 L417.25,412.71 L418.25,412.30 L419.25,411.87 L420.25,411.43 L421.25,410.99 L422.25,410.55 L423.25,410.10 L424.25,409.65 L425.25,409.20 L426.25,408.75 L427.25,408.29 L428.25,407.82 L429.25,407.35 L430.25,406.87 L431.25,406.39 L432.25,405.90 L433.25,405.41 L434.25,404.92 L435.25,404.43 L436.25,403.94 L437.25,403.45 L438.25,402.97 L439.25,402.49 L440.25,402.01 L441.25,401.54 L442.25,401.06 L443.25,400.58 L444.25,400.11 L445.25,399.63 L446.25,399.16 L447.25,398.68 L448.25,398.22 L449.25,397.77 L450.25,397.33 L451.25,396.89 L452.25,396.43 L453.25,395.95 L454.25,395.44 L455.25,394.89 L456.25,394.29 L457.25,393.63 L458.25,392.93 L459.25,392.20 L460.25,391.43 L461.25,390.63 L462.25,389.82 L463.25,389.00 L464.25,388.18 L465.25,387.36 L466.25,386.56 L467.25,385.75 L468.25,384.93 L469.25,384.11 L470.25,383.28 L471.25,382.43 L472.25,381.56 L473.25,380.68 L474.25,379.76 L475.25,378.82 L476.25,377.85 L477.25,376.84 L478.25,375.79 L479.25,374.69 L480.25,373.57 L481.25,372.42 L482.25,371.25 L483.25,370.06 L484.25,368.85 L485.25,367.62 L486.25,366.36 L487.25,365.07 L488.25,363.74 L489.25,362.37 L490.25,360.95 L491.25,359.44 L492.25,357.85 L493.25,356.24 L494.25,354.65 L495.25,353.11 L496.25,351.67 L497.25,350.27 L498.25,348.91 L499.25,347.57 L500.25,346.26 L501.25,345.01 L502.25,343.81 L503.25,342.62 L504.25,341.39 L505.25,340.07 L506.25,338.60 L507.25,337.01 L508.25,335.39 L509.25,333.77 L510.25,332.11 L511.25,330.43 L512.25,328.78 L513.25,327.21 L514.25,325.76 L515.25,324.39 L516.25,323.08 L517.25,321.82 L518.25,320.64 L519.25,319.51 L520.25,318.37 L521.25,317.25 L522.25,316.22 L523.25,315.36 L524.25,314.72 L525.25,314.18 L526.25,313.68 L527.25,313.27 L528.25,313.00 L529.25,312.90 L530.25,313.01 L531.25,313.28 L532.25,313.67 L533.25,314.17 L534.25,314.72 L535.25,315.44 L536.25,316.53 L537.25,317.88 L538.25,319.35 L539.25,320.84 L540.25,322.30 L541.25,323.87 L542.25,325.53 L543.25,327.24 L544.25,328.99 L545.25,330.76 L546.25,332.61 L547.25,334.51 L548.25,336.41 L549.25,338.29 L550.25,340.11 L551.25,341.91 L552.25,343.69 L553.25,345.45 L554.25,347.20 L555.25,348.94 L556.25,350.66 L557.25,352.37 L558.25,354.07 L559.25,355.73 L560.25,357.38 L561.25,359.02 L562.25,360.66 L563.25,362.31 L564.25,363.99 L565.25,365.66 L566.25,367.33 L567.25,369.01 L568.25,370.74 L569.25,372.53 L570.25,374.42 L571.25,376.45 L572.25,378.57 L573.25,380.73 L574.25,382.88 L575.25,384.97 L576.25,386.95 L577.25,388.77 L578.25,390.38 L579.25,391.84 L580.25,393.19 L581.25,394.46 L582.25,395.68 L583.25,396.87 L584.25,398.08 L585.25,399.31 L586.25,400.54 L587.25,401.75 L588.25,402.95 L589.25,404.14 L590.25,405.34 L591.25,406.56 L592.25,407.81 L593.25,409.10 L594.25,410.44 L595.25,411.82 L596.25,413.22 L597.25,414.62 L598.25,416.03 L599.25,417.41 L600.25,418.76 L601.25,420.06 L602.25,421.29 L603.25,422.46 L604.25,423.53 L605.25,424.53 L606.25,425.48 L607.25,426.41 L608.25,427.35 L609.25,428.31 L610.25,429.33 L611.25,430.42 L612.25,431.56 L613.25,432.74 L614.25,433.94 L615.25,435.17 L616.25,436.40 L617.25,437.64 L618.25,438.88 L619.25,440.10 L620.25,441.31 L621.25,442.54 L622.25,443.79 L623.25,445.04 L624.25,446.28 L625.25,447.51 L626.25,448.71 L627.25,449.89 L628.25,451.02 L629.25,452.11 L630.25,453.17 L631.25,454.20 L632.25,455.21 L633.25,456.20 L634.25,457.17 L635.25,458.14 L636.25,459.11 L637.25,460.08 L638.25,461.06 L639.25,462.05 L640.25,463.05 L641.25,464.05 L642.25,465.06 L643.25,466.06 L644.25,467.07 L645.25,468.07 L646.25,469.07 L647.25,470.07 L648.25,471.07 L649.25,472.06 L650.25,473.05 L651.25,474.02 L652.25,474.98 L653.25,475.94 L654.25,476.89 L655.25,477.84 L656.25,478.79 L657.25,479.76 L658.25,480.74 L659.25,481.74 L660.25,482.76 L660.48,483.00" stroke="#228b22"/>
<path class="c" d="M139.40,321.70 L140.40,320.54 L141.40,319.46 L142.40,318.50 L143.40,317.69 L144.40,316.93 L145.40,316.22 L146.40,315.57 L147.40,315.03 L148.40,314.61 L149.40,314.31 L150.40,314.03 L151.40,313.77 L152.40,313.52 L153.40,313.29 L154.40,313.08 L155.40,312.90 L156.40,312.75 L157.40,312.64 L158.40,312.55 L159.40,312.51 L160.40,312.50 L161.40,312.51 L162.40,312.54 L163.40,312.58 L164.40,312.62 L165.40,312.68 L166.40,312.74 L167.40,312.81 L168.40,312.88 L169.40,312.95 L170.40,313.03 L171.40,313.14 L172.40,313.27 L173.40,313.42 L174.40,313.60 L175.40,313.78 L176.40,313.98 L177.40,314.19 L178.40,314.40 L179.40,314.61 L180.40,314.82 L181.40,315.02 L182.40,315.20 L183.40,315.38 L184.40,315.55 L185.40,315.73 L186.40,315.90 L187.40,316.08 L188.40,316.25 L189.40,316.42 L190.40,316.60 L191.40,316.77 L192.40,316.95 L193.40,317.12 L194.40,317.30 L195.40,317.47 L196.40,317.65 L197.40,317.83 L198.40,318.01 L199.40,318.19 L200.40,318.36 L201.40,318.54 L202.40,318.72 L203.40,318.90 L204.40,319.08 L205.40,319.26 L206.40,319.44 L207.40,319.63 L208.40,319.81 L209.40,319.99 L210.40,320.17 L211.40,320.35 L212.40,320.53 L213.40,320.71 L214.40,320.89 L215.40,321.07 L216.40,321.25 L217.40,321.43 L218.40,321.60 L219.40,321.78 L220.40,321.96 L221.40,322.14 L222.40,322.32 L223.40,322.49 L224.40,322.67 L225.40,322.85 L226.40,323.03 L227.40,323.21 L228.40,323.38 L229.40,323.56 L230.40,323.74 L231.40,323.92 L232.40,324.09 L233.40,324.27 L234.40,324.45 L235.40,324.62 L236.40,324.80 L237.40,324.97 L238.40,325.15 L239.40,325.32 L240.40,325.49 L241.40,325.67 L242.40,325.84 L243.40,326.01 L244.40,326.18 L245.40,326.35 L246.40,326.52 L247.40,326.68 L248.40,326.85 L249.40,327.02 L250.40,327.18 L251.40,327.35 L252.40,327.51 L253.40,327.68 L254.40,327.84 L255.40,328.01 L256.40,328.17 L257.40,328.33 L258.40,328.49 L259.40,328.66 L260.40,328.82 L261.40,328.98 L262.40,329.14 L263.40,329.30 L264.40,329.46 L265.40,329.62 L266.40,329.78 L267.40,329.94 L268.40,330.10 L269.40,330.26 L270.40,330.42 L271.40,330.58 L272.40,330.74 L273.40,330.90 L274.40,331.06 L275.40,331.22 L276.40,331.37 L277.40,331.53 L278.40,331.69 L279.40,331.85 L280.40,332.01 L281.40,332.16 L282.40,332.32 L283.40,332.48 L284.40,332.63 L285.40,332.79 L286.40,332.94 L287.40,333.10 L288.40,333.25 L289.40,333.41 L290.40,333.56 L291.40,333.71 L292.40,333.86 L293.40,334.02 L294.40,334.17 L295.40,334.32 L296.40,334.47 L297.40,334.61 L298.40,334.76 L299.40,334.91 L300.40,335.06 L301.40,335.21 L302.40,335.35 L303.40,335.50 L304.40,335.64 L305.40,335.79 L306.40,335.93 L307.40,336.08 L308.40,336.22 L309.40,336.36 L310.40,336.50 L311.40,336.64 L312.40,336.78 L313.40,336.92 L314.40,337.06 L315.40,337.20 L316.40,337.33 L317.40,337.47 L318.40,337.60 L319.40,337.73 L320.40,337.86 L321.40,338.00 L322.40,338.13 L323.40,338.26 L324.40,338.39 L325.40,338.52 L326.40,338.65 L327.40,338.77 L328.40,338.90 L329.40,339.03 L330.40,339.15 L331.40,339.28 L332.40,339.41 L333.40,339.53 L334.40,339.66 L335.40,339.78 L336.40,339.91 L337.40,340.03 L338.40,340.16 L339.40,340.28 L340.40,340.41 L341.40,340.53 L342.40,340.66 L343.40,340.78 L344.40,340.91 L345.40,341.03 L346.40,341.15 L347.40,341.28 L348.40,341.40 L349.40,341.52 L350.40,341.64 L351.40,341.77 L352.40,341.89 L353.40,342.01 L354.40,342.13 L355.40,342.25 L356.40,342.37 L357.40,342.49 L358.40,342.61 L359.40,342.73 L360.40,342.85 L361.40,342.97 L362.40,343.09 L363.40,343.20 L364.40,343.32 L365.40,343.44 L366.40,343.56 L367.40,343.67 L368.40,343.79 L369.40,343.91 L370.40,344.02 L371.40,344.14 L372.40,344.26 L373.40,344.37 L374.40,344.49 L375.40,344.60 L376.40,344.72 L377.40,344.83 L378.40,344.94 L379.40,345.06 L380.40,345.17 L381.40,345.29 L382.40,345.40 L383.40,345.51 L384.40,345.63 L385.40,345.74 L386.40,345.85 L387.40,345.96 L388.40,346.08 L389.40,346.19 L390.40,346.30 L391.40,346.41 L392.40,346.52 L393.40,346.63 L394.40,346.75 L395.40,346.86 L396.40,346.97 L397.40,347.08 L398.40,347.19 L399.40,347.30 L400.40,347.41 L401.40,347.52 L402.40,347.63 L403.40,347.74 L404.40,347.85 L405.40,347.95 L406.40,348.06 L407.40,348.17 L408.40,348.28 L409.40,348.38 L410.40,348.49 L411.40,348.60 L412.40,348.70 L413.40,348.81 L414.40,348.92 L415.40,349.03 L416.40,349.14 L417.40,349.24 L418.40,349.35 L419.40,349.46 L420.40,349.56 L421.40,349.67 L422.40,349.77 L423.40,349.88 L424.40,349.99 L425.40,350.09 L426.40,350.20 L427.40,350.30 L428.40,350.41 L429.40,350.52 L430.40,350.63 L431.40,350.73 L432.40,350.84 L433.40,350.95 L434.40,351.06 L435.40,351.17 L436.40,351.29 L437.40,351.40 L438.40,351.51 L439.40,351.63 L440.40,351.75 L441.40,351.87 L442.40,351.99 L443.40,352.11 L444.40,352.23 L445.40,352.35 L446.40,352.48 L447.40,352.61 L448.40,352.73 L449.40,352.86 L450.40,352.99 L451.40,353.12 L452.40,353.25 L453.40,353.38 L454.40,353.51 L455.40,353.64 L456.40,353.77 L457.40,353.90 L458.40,354.03 L459.40,354.16 L460.40,354.29 L461.40,354.42 L462.40,354.55 L463.40,354.68 L464.40,354.81 L465.40,354.94 L466.40,355.06 L467.40,355.19 L468.40,355.31 L469.40,355.43 L470.40,355.55 L471.40,355.68 L472.40,355.80 L473.40,355.93 L474.40,356.06 L475.40,356.20 L476.40,356.34 L477.40,356.49 L478.40,356.64 L479.40,356.79 L480.40,356.95 L481.40,357.11 L482.40,357.27 L483.40,357.44 L484.40,357.61 L485.40,357.78 L486.40,357.96 L487.40,358.13 L488.40,358.31 L489.40,358.50 L490.40,358.68 L491.40,358.87 L492.40,359.06 L493.40,359.25 L494.40,359.44 L495.40,359.64 L496.40,359.84 L497.40,360.03 L498.40,360.24 L499.40,360.44 L500.40,360.64 L501.40,360.85 L502.40,361.05 L503.40,361.26 L504.40,361.47 L505.40,361.68 L506.40,361.90 L507.40,362.11 L508.40,362.32 L509.40,362.54 L510.40,362.75 L511.40,362.97 L512.40,363.18 L513.40,363.40 L514.40,363.62 L515.40,363.84 L516.40,364.06 L517.40,364.28 L518.40,364.51 L519.40,364.75 L520.40,364.98 L521.40,365.22 L522.40,365.46 L523.40,365.71 L524.40,365.95 L525.40,366.20 L526.40,366.45 L527.40,366.70 L528.40,366.95 L529.40,367.21 L530.40,367.46 L531.40,367.71 L532.40,367.97 L533.40,368.22 L534.40,368.48 L535.40,368.73 L536.40,368.98 L537.40,369.24 L538.40,369.49 L539.40,369.73 L540.40,369.98 L541.40,370.23 L542.40,370.48 L543.40,370.72 L544.40,370.97 L545.40,371.22 L546.40,371.46 L547.40,371.71 L548.40,371.96 L549.40,372.21 L550.40,372.45 L551.40,372.70 L552.40,372.95 L553.40,373.20 L554.40,373.44 L555.40,373.69 L556.40,373.94 L557.40,374.19 L558.40,374.44 L559.40,374.69 L560.40,374.94 L561.40,375.19 L562.40,375.44 L563.40,375.69 L564.40,375.94 L565.40,376.19 L566.40,376.45 L567.40,376.70 L568.40,376.96 L569.40,377.21 L570.40,377.47 L571.40,377.73 L572.40,377.99 L573.40,378.25 L574.40,378.51 L575.40,378.77 L576.40,379.02 L577.40,379.28 L578.40,379.54 L579.40,379.80 L580.40,380.06 L581.40,380.31 L582.40,380.57 L583.40,380.82 L584.40,381.08 L585.40,381.33 L586.40,381.58 L587.40,381.83 L588.40,382.07 L589.40,382.32 L590.40,382.56 L591.40,382.80 L592.40,383.04 L593.40,383.27 L594.40,383.51 L595.40,383.74 L596.40,383.98 L597.40,384.21 L598.40,384.44 L599.40,384.67 L600.40,384.90 L601.40,385.13 L602.40,385.36 L603.40,385.58 L604.40,385.81 L605.40,386.03 L606.40,386.26 L607.40,386.48 L608.40,386.70 L609.40,386.92 L610.40,387.15 L611.40,387.37 L612.40,387.59 L613.40,387.81 L614.40,388.03 L615.40,388.25 L616.40,388.46 L617.40,388.68 L618.40,388.90 L619.40,389.12 L620.40,389.33 L621.40,389.55 L622.40,389.76 L623.40,389.98 L624.40,390.19 L625.40,390.40 L626.40,390.61 L627.40,390.82 L628.40,391.03 L629.40,391.24 L630.40,391.45 L631.40,391.66 L632.40,391.86 L633.40,392.07 L634.40,392.27 L635.40,392.48 L636.40,392.68 L637.40,392.88 L638.40,393.08 L639.40,393.28 L640.40,393.48 L641.40,393.67 L642.40,393.87 L643.40,394.06 L644.40,394.25 L645.40,394.45 L646.40,394.64 L647.40,394.83 L648.40,395.02 L649.40,395.21 L650.40,395.40 L651.40,395.59 L652.40,395.78 L653.40,395.97 L654.40,396.16 L655.40,396.35 L656.40,396.54 L657.40,396.73 L658.40,396.92 L659.40,397.11 L660.40,397.31 L661.40,397.50 L662.40,397.69 L663.40,397.89 L664.40,398.08 L665.40,398.27 L666.40,398.46 L667.40,398.66 L668.40,398.85 L669.40,399.04 L670.40,399.23 L671.40,399.43 L672.40,399.62 L673.40,399.81 L674.40,400.01 L675.40,400.20 L676.40,400.39 L677.40,400.59 L678.40,400.78 L679.40,400.97 L680.40,401.17 L681.40,401.36 L682.40,401.56 L683.40,401.75 L684.40,401.95 L685.40,402.14 L686.40,402.34 L687.40,402.54 L688.40,402.73 L689.40,402.93 L690.40,403.13 L691.40,403.33 L692.40,403.53 L693.40,403.73 L694.40,403.92 L695.40,404.12 L696.40,404.32 L697.40,404.52 L698.40,404.72 L699.40,404.92 L700.40,405.12 L701.40,405.32 L702.40,405.52 L703.40,405.72 L704.40,405.93 L705.40,406.13 L706.40,406.33 L707.40,406.53 L708.40,406.73 L709.40,406.94 L710.40,407.14 L711.40,407.34 L712.40,407.55 L713.40,407.75 L714.40,407.95 L715.40,408.16 L716.40,408.36 L717.40,408.57 L718.40,408.77 L719.40,408.98 L720.40,409.18 L721.40,409.39 L722.40,409.59 L723.40,409.80 L724.40,410.00 L725.40,410.21 L726.40,410.42 L727.40,410.62 L728.40,410.83 L729.40,411.04 L730.40,411.25 L731.40,411.45 L732.40,411.66 L733.40,411.87 L734.40,412.08 L735.40,412.29 L736.40,412.50 L737.40,412.71 L738.40,412.91 L739.40,413.12 L740.40,413.33 L741.40,413.54 L742.40,413.75 L743.40,413.96 L744.40,414.17 L745.40,414.39 L746.40,414.60 L747.40,414.81 L748.40,415.02 L749.40,415.23 L750.40,415.44 L751.40,415.65 L752.40,415.87 L753.40,416.08 L754.40,416.29 L755.40,416.50 L756.40,416.72 L757.40,416.93 L758.40,417.14 L759.40,417.36 L760.40,417.57 L761.40,417.78 L762.40,418.00 L763.40,418.21 L764.40,418.43 L765.40,418.64 L766.40,418.86 L767.40,419.07 L768.40,419.29 L769.40,419.50 L770.40,419.72 L771.40,419.94 L772.40,420.15 L773.40,420.37 L773.60,420.41" stroke="#008b8b"/>
<path class="c" d="M363.00,483.00 L363.00,483.00 L364.00,480.47 L365.00,478.00 L366.00,475.59 L367.00,473.24 L368.00,470.90 L369.00,468.59 L370.00,466.30 L371.00,464.03 L372.00,461.79 L373.00,459.58 L374.00,457.39 L375.00,455.24 L376.00,453.12 L377.00,451.03 L378.00,448.98 L379.00,446.95 L380.00,444.94 L381.00,442.96 L382.00,441.00 L383.00,439.07 L384.00,437.16 L385.00,435.28 L386.00,433.42 L387.00,431.58 L388.00,429.78 L389.00,428.00 L390.00,426.25 L391.00,424.53 L392.00,422.83 L393.00,421.15 L394.00,419.50 L395.00,417.88 L396.00,416.27 L397.00,414.68 L398.00,413.11 L399.00,411.56 L400.00,410.02 L401.00,408.50 L402.00,407.00 L403.00,405.50 L404.00,404.02 L405.00,402.56 L406.00,401.10 L407.00,399.67 L408.00,398.24 L409.00,396.84 L410.00,395.44 L411.00,394.07 L412.00,392.71 L413.00,391.37 L414.00,390.05 L415.00,388.75 L416.00,387.46 L417.00,386.18 L418.00,384.91 L419.00,383.65 L420.00,382.41 L421.00,381.18 L422.00,379.97 L423.00,378.79 L424.00,377.62 L425.00,376.48 L426.00,375.37 L427.00,374.28 L428.00,373.23 L429.00,372.20 L430.00,371.20 L431.00,370.22 L432.00,369.27 L433.00,368.33 L434.00,367.40 L435.00,366.49 L436.00,365.58 L437.00,364.69 L438.00,363.79 L439.00,362.90 L440.00,362.00 L441.00,361.10 L442.00,360.20 L443.00,359.31 L444.00,358.41 L445.00,357.53 L446.00,356.65 L447.00,355.78 L448.00,354.92 L449.00,354.07 L450.00,353.24 L451.00,352.43 L452.00,351.64 L453.00,350.87 L454.00,350.11 L455.00,349.36 L456.00,348.63 L457.00,347.91 L458.00,347.20 L459.00,346.51 L460.00,345.82 L461.00,345.14 L462.00,344.47 L463.00,343.80 L464.00,343.15 L465.00,342.50 L466.00,341.85 L467.00,341.20 L468.00,340.55 L469.00,339.91 L470.00,339.27 L471.00,338.65 L472.00,338.03 L473.00,337.43 L474.00,336.85 L475.00,336.29 L476.00,335.75 L477.00,335.24 L478.00,334.76 L479.00,334.31 L480.00,333.87 L481.00,333.45 L482.00,333.05 L483.00,332.66 L484.00,332.28 L485.00,331.90 L486.00,331.53 L487.00,331.16 L488.00,330.78 L489.00,330.39 L490.00,330.00 L491.00,329.59 L492.00,329.18 L493.00,328.75 L494.00,328.33 L495.00,327.90 L496.00,327.47 L497.00,327.05 L498.00,326.64 L499.00,326.25 L500.00,325.86 L501.00,325.50 L502.00,325.16 L503.00,324.84 L504.00,324.54 L505.00,324.24 L506.00,323.96 L507.00,323.68 L508.00,323.41 L509.00,323.15 L510.00,322.90 L511.00,322.65 L512.00,322.42 L513.00,322.19 L514.00,321.97 L515.00,321.75 L516.00,321.54 L517.00,321.33 L518.00,321.13 L519.00,320.92 L520.00,320.73 L521.00,320.54 L522.00,320.36 L523.00,320.18 L524.00,320.01 L525.00,319.85 L526.00,319.71 L527.00,319.57 L528.00,319.44 L529.00,319.31 L530.00,319.18 L531.00,319.05 L532.00,318.93 L533.00,318.81 L534.00,318.70 L535.00,318.60 L536.00,318.50 L537.00,318.42 L538.00,318.35 L539.00,318.29 L540.00,318.25 L541.00,318.22 L542.00,318.19 L543.00,318.16 L544.00,318.13 L545.00,318.10 L546.00,318.08 L547.00,318.06 L548.00,318.04 L549.00,318.02 L550.00,318.01 L551.00,318.00 L552.00,318.00 L553.00,318.00 L554.00,318.02 L555.00,318.05 L556.00,318.09 L557.00,318.14 L558.00,318.21 L559.00,318.28 L560.00,318.35 L561.00,318.43 L562.00,318.51 L563.00,318.59 L564.00,318.67 L565.00,318.75 L566.00,318.83 L567.00,318.91 L568.00,318.99 L569.00,319.07 L570.00,319.17 L571.00,319.26 L572.00,319.36 L573.00,319.46 L574.00,319.57 L575.00,319.69 L576.00,319.81 L577.00,319.93 L578.00,320.07 L579.00,320.22 L580.00,320.39 L581.00,320.56 L582.00,320.76 L583.00,320.96 L584.00,321.17 L585.00,321.38 L586.00,321.60 L587.00,321.83 L588.00,322.05 L589.00,322.28 L590.00,322.50 L591.00,322.72 L592.00,322.94 L593.00,323.17 L594.00,323.40 L595.00,323.63 L596.00,323.86 L597.00,324.10 L598.00,324.34 L599.00,324.58 L600.00,324.83 L601.00,325.08 L602.00,325.33 L603.00,325.58 L604.00,325.84 L605.00,326.10 L606.00,326.37 L607.00,326.64 L608.00,326.91 L609.00,327.19 L610.00,327.47 L611.00,327.75 L612.00,328.04 L613.00,328.34 L614.00,328.64 L615.00,328.95 L616.00,329.26 L617.00,329.58 L618.00,329.90 L619.00,330.23 L620.00,330.56 L621.00,330.90 L622.00,331.24 L623.00,331.59 L624.00,331.93 L625.00,332.28 L626.00,332.64 L627.00,332.99 L628.00,333.35 L629.00,333.71 L630.00,334.07 L631.00,334.43 L632.00,334.80 L633.00,335.16 L634.00,335.53 L635.00,335.89 L636.00,336.26 L637.00,336.63 L638.00,337.00 L639.00,337.37 L640.00,337.75 L641.00,338.14 L642.00,338.52 L643.00,338.91 L644.00,339.30 L645.00,339.70 L646.00,340.09 L647.00,340.49 L648.00,340.89 L649.00,341.29 L650.00,341.70 L651.00,342.10 L652.00,342.51 L653.00,342.91 L654.00,343.32 L655.00,343.72 L656.00,344.13 L657.00,344.53 L658.00,344.94 L659.00,345.34 L660.00,345.74 L661.00,346.14 L662.00,346.54 L663.00,346.94 L664.00,347.35 L665.00,347.75 L666.00,348.15 L667.00,348.56 L668.00,348.96 L669.00,349.37 L670.00,349.77 L671.00,350.18 L672.00,350.58 L673.00,350.99 L674.00,351.40 L675.00,351.80 L676.00,352.21 L677.00,352.61 L678.00,353.02 L679.00,353.43 L680.00,353.83 L681.00,354.24 L682.00,354.64 L683.00,355.04 L684.00,355.45 L685.00,355.85 L686.00,356.25 L687.00,356.65 L688.00,357.05 L689.00,357.45 L690.00,357.85 L691.00,358.24 L692.00,358.64 L693.00,359.04 L694.00,359.43 L695.00,359.83 L696.00,360.23 L697.00,360.62 L698.00,361.02 L699.00,361.41 L700.00,361.81 L701.00,362.20 L702.00,362.60 L703.00,362.99 L704.00,363.39 L705.00,363.79 L706.00,364.19 L707.00,364.58 L708.00,364.98 L709.00,365.38 L710.00,365.78 L711.00,366.19 L712.00,366.59 L713.00,366.99 L714.00,367.39 L715.00,367.80 L716.00,368.20 L717.00,368.60 L718.00,369.00 L719.00,369.41 L720.00,369.81 L721.00,370.22 L722.00,370.62 L723.00,371.03 L724.00,371.43 L725.00,371.84 L726.00,372.25 L727.00,372.65 L728.00,373.06 L729.00,373.47 L730.00,373.88 L731.00,374.29 L732.00,374.70 L733.00,375.12 L734.00,375.53 L735.00,375.94 L736.00,376.36 L737.00,376.78 L738.00,377.19 L739.00,377.61 L740.00,378.03 L741.00,378.45 L742.00,378.87 L743.00,379.29 L744.00,379.71 L745.00,380.14 L746.00,380.56 L747.00,380.98 L748.00,381.41 L749.00,381.84 L750.00,382.26 L751.00,382.69 L752.00,383.12 L753.00,383.54 L754.00,383.97 L755.00,384.40 L756.00,384.83 L757.00,385.26 L758.00,385.69 L759.00,386.12 L760.00,386.55 L761.00,386.98 L762.00,387.42 L763.00,387.85 L764.00,388.28 L765.00,388.72 L766.00,389.15 L767.00,389.59 L768.00,390.03 L769.00,390.46 L770.00,390.90 L771.00,391.34 L772.00,391.78 L773.00,392.22 L773.60,392.49" stroke="#0000ff" stroke-dasharray="13.9 6.5"/>
<path class="c" d="M169.6,483.0 L169.6,389 L169.60,389.00 L170.60,381.70 L171.60,374.61 L172.60,367.75 L173.60,361.12 L174.60,354.74 L175.60,348.33 L176.60,342.00 L177.60,336.01 L178.60,330.65 L179.60,326.18 L180.60,322.39 L181.60,319.04 L182.60,316.08 L183.60,313.43 L184.60,311.03 L185.60,308.83 L186.60,306.79 L187.60,304.86 L188.60,303.00 L189.60,301.17 L190.60,299.43 L191.60,297.76 L192.60,296.15 L193.60,294.61 L194.60,293.10 L195.60,291.62 L196.60,290.19 L197.60,288.81 L198.60,287.49 L199.60,286.26 L200.60,285.07 L201.60,283.92 L202.60,282.79 L203.60,281.70 L204.60,280.64 L205.60,279.62 L206.60,278.64 L207.60,277.70 L208.60,276.80 L209.60,275.95 L210.60,275.12 L211.60,274.32 L212.60,273.55 L213.60,272.81 L214.60,272.09 L215.60,271.40 L216.60,270.74 L217.60,270.10 L218.60,269.49 L219.60,268.91 L220.60,268.36 L221.60,267.83 L222.60,267.33 L223.60,266.84 L224.60,266.36 L225.60,265.90 L226.60,265.45 L227.60,265.00 L228.60,264.56 L229.60,264.11 L230.60,263.67 L231.60,263.22 L232.60,262.79 L233.60,262.36 L234.60,261.93 L235.60,261.52 L236.60,261.12 L237.60,260.73 L238.60,260.36 L239.60,260.00 L240.60,259.66 L241.60,259.33 L242.60,259.01 L243.60,258.69 L244.60,258.39 L245.60,258.10 L246.60,257.81 L247.60,257.53 L248.60,257.25 L249.60,256.98 L250.60,256.71 L251.60,256.46 L252.60,256.20 L253.60,255.96 L254.60,255.71 L255.60,255.48 L256.60,255.24 L257.60,255.01 L258.60,254.78 L259.60,254.55 L260.60,254.32 L261.60,254.09 L262.60,253.86 L263.60,253.63 L264.60,253.40 L265.60,253.16 L266.60,252.92 L267.60,252.68 L268.60,252.44 L269.60,252.20 L270.60,251.96 L271.60,251.72 L272.60,251.48 L273.60,251.24 L274.60,251.00 L275.60,250.76 L276.60,250.52 L277.60,250.28 L278.60,250.04 L279.60,249.80 L280.60,249.56 L281.60,249.32 L282.60,249.08 L283.60,248.84 L284.60,248.61 L285.60,248.37 L286.60,248.13 L287.60,247.89 L288.60,247.65 L289.60,247.40 L290.60,247.16 L291.60,246.92 L292.60,246.68 L293.60,246.44 L294.60,246.20 L295.60,245.95 L296.60,245.71 L297.60,245.47 L298.60,245.22 L299.60,244.98 L300.60,244.74 L301.60,244.49 L302.60,244.25 L303.60,244.00 L304.60,243.76 L305.60,243.51 L306.60,243.27 L307.60,243.02 L308.60,242.78 L309.60,242.53 L310.60,242.28 L311.60,242.04 L312.60,241.79 L313.60,241.54 L314.60,241.30 L315.60,241.05 L316.60,240.80 L317.60,240.56 L318.60,240.31 L319.60,240.06 L320.60,239.81 L321.60,239.56 L322.60,239.30 L323.60,239.05 L324.60,238.80 L325.60,238.55 L326.60,238.30 L327.60,238.05 L328.60,237.80 L329.60,237.55 L330.60,237.30 L331.60,237.05 L332.60,236.80 L333.60,236.55 L334.60,236.31 L335.60,236.06 L336.60,235.82 L337.60,235.57 L338.60,235.33 L339.60,235.10 L340.60,234.86 L341.60,234.61 L342.60,234.37 L343.60,234.12 L344.60,233.88 L345.60,233.64 L346.60,233.41 L347.60,233.18 L348.60,232.97 L349.60,232.77 L350.60,232.59 L351.60,232.40 L352.60,232.22 L353.60,232.04 L354.60,231.86 L355.60,231.69 L356.60,231.53 L357.60,231.38 L358.60,231.25 L359.60,231.14 L360.60,231.05 L361.60,230.97 L362.60,230.91 L363.60,230.84 L364.60,230.78 L365.60,230.72 L366.60,230.68 L367.60,230.64 L368.60,230.61 L369.60,230.60 L370.60,230.61 L371.60,230.67 L372.60,230.78 L373.60,230.93 L374.60,231.11 L375.60,231.32 L376.60,231.55 L377.60,231.80 L378.60,232.05 L379.60,232.30 L380.60,232.55 L381.60,232.84 L382.60,233.16 L383.60,233.51 L384.60,233.89 L385.60,234.29 L386.60,234.71 L387.60,235.15 L388.60,235.60 L389.60,236.06 L390.60,236.53 L391.60,237.03 L392.60,237.54 L393.60,238.08 L394.60,238.64 L395.60,239.23 L396.60,239.83 L397.60,240.46 L398.60,241.10 L399.60,241.77 L400.60,242.45 L401.60,243.15 L402.60,243.87 L403.60,244.62 L404.60,245.41 L405.60,246.24 L406.60,247.09 L407.60,247.98 L408.60,248.90 L409.60,249.83 L410.60,250.79 L411.60,251.77 L412.60,252.77 L413.60,253.77 L414.60,254.79 L415.60,255.82 L416.60,256.88 L417.60,257.97 L418.60,259.09 L419.60,260.24 L420.60,261.40 L421.60,262.59 L422.60,263.79 L423.60,265.00 L424.60,266.22 L425.60,267.45 L426.60,268.69 L427.60,269.92 L428.60,271.17 L429.60,272.45 L430.60,273.74 L431.60,275.04 L432.60,276.36 L433.60,277.69 L434.60,279.02 L435.60,280.36 L436.60,281.70 L437.60,283.03 L438.60,284.36 L439.60,285.68 L440.60,286.99 L441.60,288.30 L442.60,289.61 L443.60,290.92 L444.60,292.23 L445.60,293.54 L446.60,294.85 L447.60,296.16 L448.60,297.46 L449.60,298.76 L450.60,300.06 L451.60,301.35 L452.60,302.63 L453.60,303.90 L454.60,305.17 L455.60,306.43 L456.60,307.69 L457.60,308.94 L458.60,310.19 L459.60,311.44 L460.60,312.69 L461.60,313.94 L462.60,315.19 L463.60,316.44 L464.60,317.70 L465.60,318.96 L466.60,320.23 L467.60,321.52 L468.60,322.81 L469.60,324.10 L470.60,325.40 L471.60,326.69 L472.60,327.97 L473.60,329.23 L474.60,330.49 L475.60,331.72 L476.60,332.93 L477.60,334.12 L478.60,335.27 L479.60,336.39 L480.60,337.48 L481.60,338.56 L482.60,339.63 L483.60,340.69 L484.60,341.77 L485.60,342.86 L486.60,343.97 L487.60,345.12 L488.60,346.31 L489.60,347.52 L490.60,348.72 L491.60,349.91 L492.60,351.10 L493.60,352.30 L494.60,353.50 L495.60,354.69 L496.60,355.89 L497.60,357.08 L498.60,358.28 L499.60,359.47 L500.60,360.66 L501.60,361.85 L502.60,363.04 L503.60,364.22 L504.60,365.41 L505.60,366.59 L506.60,367.77 L507.60,368.94 L508.60,370.11 L509.60,371.28 L510.60,372.44 L511.60,373.60 L512.60,374.75 L513.60,375.90 L514.60,377.04 L515.60,378.18 L516.60,379.31 L517.60,380.44 L518.60,381.56 L519.60,382.68 L520.60,383.79 L521.60,384.90 L522.60,386.01 L523.60,387.11 L524.60,388.21 L525.60,389.31 L526.60,390.40 L527.60,391.49 L528.60,392.58 L529.60,393.67 L530.60,394.76 L531.60,395.85 L532.60,396.94 L533.60,398.02 L534.60,399.11 L535.60,400.20 L536.60,401.29 L537.60,402.38 L538.60,403.47 L539.60,404.56 L540.60,405.66 L541.60,406.75 L542.60,407.85 L543.60,408.95 L544.60,410.05 L545.60,411.15 L546.60,412.25 L547.60,413.36 L548.60,414.46 L549.60,415.56 L550.60,416.66 L551.60,417.76 L552.60,418.86 L553.60,419.95 L554.60,421.05 L555.60,422.15 L556.60,423.24 L557.60,424.33 L558.60,425.42 L559.60,426.51 L560.60,427.60 L561.60,428.68 L562.60,429.76 L563.60,430.83 L564.60,431.91 L565.60,432.98 L566.60,434.04 L567.60,435.11 L568.60,436.16 L569.60,437.22 L570.60,438.27 L571.60,439.32 L572.60,440.37 L573.60,441.41 L574.60,442.46 L575.60,443.50 L576.60,444.53 L577.60,445.57 L578.60,446.60 L579.60,447.63 L580.60,448.66 L581.60,449.69 L582.60,450.71 L583.60,451.74 L584.60,452.76 L585.60,453.78 L586.60,454.80 L587.60,455.82 L588.60,456.84 L589.60,457.86 L590.60,458.87 L591.60,459.89 L592.60,460.90 L593.60,461.92 L594.60,462.94 L595.60,463.95 L596.60,464.97 L597.60,465.98 L598.60,467.00 L599.60,468.01 L600.60,469.03 L601.60,470.05 L602.60,471.07 L603.60,472.08 L604.60,473.10 L605.60,474.12 L606.60,475.15 L607.60,476.17 L608.60,477.20 L609.60,478.22 L610.60,479.25 L611.60,480.28 L612.60,481.31 L613.60,482.34 L614.23,483.00" stroke="#000"/>
<path class="c" d="M225.90,483.00 L226.00,482.90 L227.00,481.89 L228.00,480.87 L229.00,479.86 L230.00,478.85 L231.00,477.84 L232.00,476.83 L233.00,475.82 L234.00,474.82 L235.00,473.81 L236.00,472.80 L237.00,471.79 L238.00,470.79 L239.00,469.78 L240.00,468.78 L241.00,467.77 L242.00,466.76 L243.00,465.76 L244.00,464.75 L245.00,463.74 L246.00,462.73 L247.00,461.73 L248.00,460.72 L249.00,459.71 L250.00,458.70 L251.00,457.69 L252.00,456.68 L253.00,455.67 L254.00,454.66 L255.00,453.65 L256.00,452.64 L257.00,451.62 L258.00,450.61 L259.00,449.60 L260.00,448.59 L261.00,447.58 L262.00,446.56 L263.00,445.55 L264.00,444.54 L265.00,443.53 L266.00,442.52 L267.00,441.50 L268.00,440.49 L269.00,439.48 L270.00,438.47 L271.00,437.46 L272.00,436.45 L273.00,435.44 L274.00,434.43 L275.00,433.42 L276.00,432.41 L277.00,431.40 L278.00,430.39 L279.00,429.38 L280.00,428.38 L281.00,427.37 L282.00,426.37 L283.00,425.36 L284.00,424.35 L285.00,423.35 L286.00,422.35 L287.00,421.34 L288.00,420.34 L289.00,419.33 L290.00,418.33 L291.00,417.33 L292.00,416.32 L293.00,415.32 L294.00,414.32 L295.00,413.32 L296.00,412.31 L297.00,411.31 L298.00,410.31 L299.00,409.30 L300.00,408.30 L301.00,407.30 L302.00,406.29 L303.00,405.29 L304.00,404.28 L305.00,403.28 L306.00,402.27 L307.00,401.27 L308.00,400.26 L309.00,399.25 L310.00,398.25 L311.00,397.24 L312.00,396.23 L313.00,395.22 L314.00,394.21 L315.00,393.20 L316.00,392.19 L317.00,391.18 L318.00,390.17 L319.00,389.16 L320.00,388.15 L321.00,387.13 L322.00,386.12 L323.00,385.11 L324.00,384.10 L325.00,383.09 L326.00,382.07 L327.00,381.06 L328.00,380.05 L329.00,379.03 L330.00,378.02 L331.00,377.00 L332.00,375.98 L333.00,374.96 L334.00,373.94 L335.00,372.92 L336.00,371.90 L337.00,370.88 L338.00,369.85 L339.00,368.83 L340.00,367.80 L341.00,366.78 L342.00,365.79 L343.00,364.81 L344.00,363.84 L345.00,362.89 L346.00,361.93 L347.00,360.98 L348.00,360.03 L349.00,359.07 L350.00,358.10 L351.00,357.12 L352.00,356.12 L353.00,355.09 L354.00,354.05 L355.00,352.97 L356.00,351.86 L357.00,350.71 L358.00,349.52 L359.00,348.28 L360.00,347.00 L361.00,345.60 L362.00,344.05 L363.00,342.40 L364.00,340.71 L365.00,339.03 L366.00,337.39 L367.00,335.83 L368.00,334.26 L369.00,332.68 L370.00,331.11 L371.00,329.55 L372.00,328.00 L373.00,326.47 L374.00,324.97 L375.00,323.50 L376.00,322.07 L377.00,320.68 L378.00,319.33 L379.00,318.01 L380.00,316.71 L381.00,315.43 L382.00,314.17 L383.00,312.94 L384.00,311.73 L385.00,310.54 L386.00,309.38 L387.00,308.24 L388.00,307.14 L389.00,306.05 L390.00,305.00 L391.00,303.94 L392.00,302.85 L393.00,301.78 L394.00,300.75 L395.00,299.80 L396.00,298.97 L397.00,298.28 L398.00,297.75 L399.00,297.24 L400.00,296.76 L401.00,296.30 L402.00,295.90 L403.00,295.55 L404.00,295.27 L405.00,295.09 L406.00,295.00 L407.00,295.01 L408.00,295.06 L409.00,295.15 L410.00,295.28 L411.00,295.43 L412.00,295.61 L413.00,295.81 L414.00,296.02 L415.00,296.25 L416.00,296.56 L417.00,297.02 L418.00,297.60 L419.00,298.29 L420.00,299.08 L421.00,299.94 L422.00,300.86 L423.00,301.83 L424.00,302.82 L425.00,303.82 L426.00,304.81 L427.00,305.78 L428.00,306.72 L429.00,307.69 L430.00,308.70 L431.00,309.75 L432.00,310.83 L433.00,311.94 L434.00,313.06 L435.00,314.21 L436.00,315.36 L437.00,316.52 L438.00,317.69 L439.00,318.85 L440.00,320.00 L441.00,321.16 L442.00,322.33 L443.00,323.51 L444.00,324.70 L445.00,325.91 L446.00,327.12 L447.00,328.33 L448.00,329.55 L449.00,330.76 L450.00,331.98 L451.00,333.19 L452.00,334.40 L453.00,335.60 L454.00,336.82 L455.00,338.04 L456.00,339.28 L457.00,340.51 L458.00,341.75 L459.00,342.98 L460.00,344.20 L461.00,345.40 L462.00,346.59 L463.00,347.75 L464.00,348.89 L465.00,350.00 L466.00,351.08 L467.00,352.13 L468.00,353.16 L469.00,354.17 L470.00,355.16 L471.00,356.15 L472.00,357.12 L473.00,358.09 L474.00,359.06 L475.00,360.04 L476.00,361.01 L477.00,362.00 L478.00,363.00 L479.00,364.02 L480.00,365.04 L481.00,366.07 L482.00,367.11 L483.00,368.14 L484.00,369.17 L485.00,370.19 L486.00,371.20 L487.00,372.18 L488.00,373.15 L489.00,374.09 L490.00,375.00 L491.00,375.89 L492.00,376.76 L493.00,377.61 L494.00,378.45 L495.00,379.28 L496.00,380.09 L497.00,380.89 L498.00,381.68 L499.00,382.46 L500.00,383.23 L501.00,383.99 L502.00,384.74 L503.00,385.48 L504.00,386.20 L505.00,386.92 L506.00,387.62 L507.00,388.32 L508.00,389.00 L509.00,389.68 L510.00,390.35 L511.00,391.02 L512.00,391.68 L513.00,392.33 L514.00,392.99 L515.00,393.64 L516.00,394.29 L517.00,394.94 L518.00,395.59 L519.00,396.22 L520.00,396.86 L521.00,397.49 L522.00,398.12 L523.00,398.74 L524.00,399.35 L525.00,399.96 L526.00,400.57 L527.00,401.17 L528.00,401.76 L529.00,402.35 L530.00,402.93 L531.00,403.50 L532.00,404.07 L533.00,404.64 L534.00,405.20 L535.00,405.76 L536.00,406.31 L537.00,406.86 L538.00,407.41 L539.00,407.96 L540.00,408.51 L541.00,409.06 L542.00,409.60 L543.00,410.15 L544.00,410.69 L545.00,411.23 L546.00,411.77 L547.00,412.31 L548.00,412.84 L549.00,413.37 L550.00,413.89 L551.00,414.42 L552.00,414.93 L553.00,415.45 L554.00,415.95 L555.00,416.46 L556.00,416.95 L557.00,417.44 L558.00,417.93 L559.00,418.41 L560.00,418.88 L561.00,419.36 L562.00,419.83 L563.00,420.29 L564.00,420.76 L565.00,421.22 L566.00,421.68 L567.00,422.14 L568.00,422.60 L569.00,423.07 L570.00,423.53 L571.00,423.99 L572.00,424.46 L573.00,424.92 L574.00,425.39 L575.00,425.85 L576.00,426.32 L577.00,426.78 L578.00,427.24 L579.00,427.70 L580.00,428.16 L581.00,428.61 L582.00,429.07 L583.00,429.52 L584.00,429.96 L585.00,430.40 L586.00,430.84 L587.00,431.28 L588.00,431.70 L589.00,432.13 L590.00,432.55 L591.00,432.97 L592.00,433.39 L593.00,433.80 L594.00,434.22 L595.00,434.63 L596.00,435.03 L597.00,435.44 L598.00,435.84 L599.00,436.24 L600.00,436.64 L601.00,437.04 L602.00,437.44 L603.00,437.83 L604.00,438.23 L605.00,438.62 L606.00,439.01 L607.00,439.40 L608.00,439.79 L609.00,440.18 L610.00,440.57 L611.00,440.96 L612.00,441.34 L613.00,441.73 L614.00,442.11 L615.00,442.50 L616.00,442.88 L617.00,443.26 L618.00,443.65 L619.00,444.03 L620.00,444.40 L621.00,444.78 L622.00,445.16 L623.00,445.54 L624.00,445.91 L625.00,446.28 L626.00,446.65 L627.00,447.02 L628.00,447.39 L629.00,447.76 L630.00,448.12 L631.00,448.48 L632.00,448.84 L633.00,449.20 L634.00,449.56 L635.00,449.91 L636.00,450.27 L637.00,450.62 L638.00,450.96 L639.00,451.31 L640.00,451.65 L641.00,452.00 L642.00,452.34 L643.00,452.68 L644.00,453.02 L645.00,453.35 L646.00,453.69 L647.00,454.02 L648.00,454.35 L649.00,454.68 L650.00,455.01 L651.00,455.34 L652.00,455.67 L653.00,455.99 L654.00,456.32 L655.00,456.64 L656.00,456.97 L657.00,457.29 L658.00,457.61 L659.00,457.94 L660.00,458.26 L661.00,458.58 L662.00,458.90 L663.00,459.22 L664.00,459.54 L665.00,459.86 L666.00,460.18 L667.00,460.50 L668.00,460.82 L669.00,461.13 L670.00,461.45 L671.00,461.77 L672.00,462.08 L673.00,462.39 L674.00,462.71 L675.00,463.02 L676.00,463.33 L677.00,463.63 L678.00,463.94 L679.00,464.25 L680.00,464.55 L681.00,464.85 L682.00,465.15 L683.00,465.45 L684.00,465.75 L685.00,466.04 L686.00,466.34 L687.00,466.63 L688.00,466.92 L689.00,467.20 L690.00,467.49 L691.00,467.77 L692.00,468.05 L693.00,468.33 L694.00,468.61 L695.00,468.89 L696.00,469.17 L697.00,469.44 L698.00,469.72 L699.00,469.99 L700.00,470.26 L701.00,470.53 L702.00,470.80 L703.00,471.07 L704.00,471.34 L705.00,471.61 L706.00,471.88 L707.00,472.14 L708.00,472.41 L709.00,472.68 L710.00,472.94 L711.00,473.21 L712.00,473.47 L713.00,473.73 L714.00,474.00 L715.00,474.26 L716.00,474.52 L717.00,474.78 L718.00,475.04 L719.00,475.29 L720.00,475.55 L721.00,475.81 L722.00,476.06 L723.00,476.32 L724.00,476.57 L725.00,476.83 L726.00,477.08 L727.00,477.33 L728.00,477.59 L729.00,477.84 L730.00,478.09 L731.00,478.34 L732.00,478.59 L733.00,478.85 L734.00,479.10 L735.00,479.35 L736.00,479.60 L737.00,479.85 L738.00,480.10 L739.00,480.35 L740.00,480.60 L741.00,480.85 L742.00,481.10 L743.00,481.34 L744.00,481.59 L745.00,481.84 L746.00,482.08 L747.00,482.32 L748.00,482.57 L749.00,482.81 L749.77,483.00" stroke="#000000" stroke-dasharray="7 10"/>
<path class="c" d="M139.30,229.30 L140.30,228.23 L141.30,227.21 L142.30,226.25 L143.30,225.35 L144.30,224.53 L145.30,223.79 L146.30,223.14 L147.30,222.60 L148.30,222.13 L149.30,221.71 L150.30,221.32 L151.30,220.97 L152.30,220.66 L153.30,220.38 L154.30,220.14 L155.30,219.94 L156.30,219.75 L157.30,219.56 L158.30,219.39 L159.30,219.24 L160.30,219.12 L161.30,219.04 L162.30,219.00 L163.30,219.00 L164.30,219.02 L165.30,219.04 L166.30,219.08 L167.30,219.12 L168.30,219.16 L169.30,219.21 L170.30,219.27 L171.30,219.35 L172.30,219.47 L173.30,219.62 L174.30,219.80 L175.30,219.99 L176.30,220.20 L177.30,220.43 L178.30,220.65 L179.30,220.88 L180.30,221.11 L181.30,221.33 L182.30,221.54 L183.30,221.74 L184.30,221.94 L185.30,222.14 L186.30,222.34 L187.30,222.54 L188.30,222.75 L189.30,222.96 L190.30,223.17 L191.30,223.38 L192.30,223.59 L193.30,223.80 L194.30,224.01 L195.30,224.23 L196.30,224.44 L197.30,224.66 L198.30,224.88 L199.30,225.09 L200.30,225.31 L201.30,225.53 L202.30,225.75 L203.30,225.97 L204.30,226.19 L205.30,226.41 L206.30,226.63 L207.30,226.86 L208.30,227.08 L209.30,227.31 L210.30,227.53 L211.30,227.76 L212.30,227.99 L213.30,228.22 L214.30,228.45 L215.30,228.68 L216.30,228.92 L217.30,229.15 L218.30,229.39 L219.30,229.62 L220.30,229.86 L221.30,230.10 L222.30,230.34 L223.30,230.59 L224.30,230.83 L225.30,231.08 L226.30,231.33 L227.30,231.58 L228.30,231.83 L229.30,232.09 L230.30,232.34 L231.30,232.59 L232.30,232.85 L233.30,233.11 L234.30,233.37 L235.30,233.62 L236.30,233.88 L237.30,234.14 L238.30,234.40 L239.30,234.66 L240.30,234.93 L241.30,235.19 L242.30,235.45 L243.30,235.71 L244.30,235.97 L245.30,236.23 L246.30,236.50 L247.30,236.76 L248.30,237.02 L249.30,237.29 L250.30,237.55 L251.30,237.82 L252.30,238.09 L253.30,238.35 L254.30,238.62 L255.30,238.89 L256.30,239.16 L257.30,239.43 L258.30,239.70 L259.30,239.97 L260.30,240.24 L261.30,240.51 L262.30,240.78 L263.30,241.05 L264.30,241.32 L265.30,241.60 L266.30,241.87 L267.30,242.14 L268.30,242.41 L269.30,242.68 L270.30,242.95 L271.30,243.23 L272.30,243.50 L273.30,243.77 L274.30,244.04 L275.30,244.31 L276.30,244.59 L277.30,244.86 L278.30,245.13 L279.30,245.40 L280.30,245.68 L281.30,245.95 L282.30,246.22 L283.30,246.50 L284.30,246.77 L285.30,247.05 L286.30,247.32 L287.30,247.60 L288.30,247.87 L289.30,248.15 L290.30,248.43 L291.30,248.70 L292.30,248.98 L293.30,249.26 L294.30,249.54 L295.30,249.81 L296.30,250.09 L297.30,250.37 L298.30,250.65 L299.30,250.93 L300.30,251.21 L301.30,251.49 L302.30,251.77 L303.30,252.06 L304.30,252.34 L305.30,252.62 L306.30,252.90 L307.30,253.18 L308.30,253.47 L309.30,253.75 L310.30,254.04 L311.30,254.32 L312.30,254.61 L313.30,254.89 L314.30,255.18 L315.30,255.46 L316.30,255.75 L317.30,256.04 L318.30,256.32 L319.30,256.61 L320.30,256.90 L321.30,257.19 L322.30,257.48 L323.30,257.77 L324.30,258.06 L325.30,258.35 L326.30,258.64 L327.30,258.93 L328.30,259.22 L329.30,259.51 L330.30,259.80 L331.30,260.10 L332.30,260.39 L333.30,260.68 L334.30,260.98 L335.30,261.27 L336.30,261.56 L337.30,261.86 L338.30,262.15 L339.30,262.45 L340.30,262.74 L341.30,263.03 L342.30,263.33 L343.30,263.62 L344.30,263.92 L345.30,264.21 L346.30,264.50 L347.30,264.80 L348.30,265.09 L349.30,265.39 L350.30,265.68 L351.30,265.98 L352.30,266.27 L353.30,266.57 L354.30,266.87 L355.30,267.17 L356.30,267.46 L357.30,267.76 L358.30,268.06 L359.30,268.36 L360.30,268.67 L361.30,268.97 L362.30,269.27 L363.30,269.58 L364.30,269.89 L365.30,270.19 L366.30,270.50 L367.30,270.81 L368.30,271.13 L369.30,271.44 L370.30,271.75 L371.30,272.07 L372.30,272.39 L373.30,272.71 L374.30,273.02 L375.30,273.34 L376.30,273.66 L377.30,273.99 L378.30,274.31 L379.30,274.63 L380.30,274.95 L381.30,275.27 L382.30,275.60 L383.30,275.92 L384.30,276.24 L385.30,276.57 L386.30,276.89 L387.30,277.21 L388.30,277.53 L389.30,277.85 L390.30,278.17 L391.30,278.49 L392.30,278.82 L393.30,279.14 L394.30,279.46 L395.30,279.78 L396.30,280.10 L397.30,280.42 L398.30,280.74 L399.30,281.07 L400.30,281.39 L401.30,281.71 L402.30,282.03 L403.30,282.35 L404.30,282.68 L405.30,283.00 L406.30,283.32 L407.30,283.64 L408.30,283.97 L409.30,284.29 L410.30,284.61 L411.30,284.94 L412.30,285.26 L413.30,285.58 L414.30,285.90 L415.30,286.23 L416.30,286.55 L417.30,286.87 L418.30,287.20 L419.30,287.52 L420.30,287.85 L421.30,288.17 L422.30,288.49 L423.30,288.82 L424.30,289.14 L425.30,289.47 L426.30,289.79 L427.30,290.12 L428.30,290.44 L429.30,290.77 L430.30,291.09 L431.30,291.42 L432.30,291.74 L433.30,292.06 L434.30,292.39 L435.30,292.71 L436.30,293.04 L437.30,293.36 L438.30,293.69 L439.30,294.01 L440.30,294.34 L441.30,294.66 L442.30,294.98 L443.30,295.31 L444.30,295.63 L445.30,295.95 L446.30,296.28 L447.30,296.60 L448.30,296.92 L449.30,297.25 L450.30,297.57 L451.30,297.90 L452.30,298.22 L453.30,298.54 L454.30,298.87 L455.30,299.19 L456.30,299.51 L457.30,299.84 L458.30,300.16 L459.30,300.48 L460.30,300.81 L461.30,301.13 L462.30,301.46 L463.30,301.78 L464.30,302.11 L465.30,302.43 L466.30,302.76 L467.30,303.08 L468.30,303.41 L469.30,303.73 L470.30,304.06 L471.30,304.38 L472.30,304.71 L473.30,305.03 L474.30,305.36 L475.30,305.68 L476.30,306.01 L477.30,306.34 L478.30,306.66 L479.30,306.99 L480.30,307.31 L481.30,307.64 L482.30,307.97 L483.30,308.29 L484.30,308.62 L485.30,308.94 L486.30,309.27 L487.30,309.60 L488.30,309.92 L489.30,310.25 L490.30,310.57 L491.30,310.90 L492.30,311.23 L493.30,311.55 L494.30,311.88 L495.30,312.20 L496.30,312.53 L497.30,312.85 L498.30,313.18 L499.30,313.50 L500.30,313.83 L501.30,314.15 L502.30,314.48 L503.30,314.80 L504.30,315.13 L505.30,315.46 L506.30,315.78 L507.30,316.11 L508.30,316.43 L509.30,316.76 L510.30,317.09 L511.30,317.42 L512.30,317.74 L513.30,318.07 L514.30,318.40 L515.30,318.73 L516.30,319.06 L517.30,319.39 L518.30,319.72 L519.30,320.05 L520.30,320.38 L521.30,320.72 L522.30,321.05 L523.30,321.38 L524.30,321.72 L525.30,322.05 L526.30,322.39 L527.30,322.72 L528.30,323.05 L529.30,323.39 L530.30,323.72 L531.30,324.05 L532.30,324.39 L533.30,324.72 L534.30,325.05 L535.30,325.38 L536.30,325.71 L537.30,326.04 L538.30,326.37 L539.30,326.70 L540.30,327.03 L541.30,327.35 L542.30,327.68 L543.30,328.00 L544.30,328.32 L545.30,328.64 L546.30,328.96 L547.30,329.28 L548.30,329.60 L549.30,329.92 L550.30,330.24 L551.30,330.56 L552.30,330.88 L553.30,331.20 L554.30,331.52 L555.30,331.84 L556.30,332.16 L557.30,332.48 L558.30,332.80 L559.30,333.12 L560.30,333.45 L561.30,333.77 L562.30,334.10 L563.30,334.43 L564.30,334.75 L565.30,335.09 L566.30,335.42 L567.30,335.75 L568.30,336.08 L569.30,336.42 L570.30,336.75 L571.30,337.09 L572.30,337.43 L573.30,337.76 L574.30,338.10 L575.30,338.44 L576.30,338.78 L577.30,339.12 L578.30,339.46 L579.30,339.81 L580.30,340.15 L581.30,340.49 L582.30,340.84 L583.30,341.18 L584.30,341.53 L585.30,341.88 L586.30,342.23 L587.30,342.58 L588.30,342.93 L589.30,343.28 L590.30,343.63 L591.30,343.99 L592.30,344.34 L593.30,344.70 L594.30,345.05 L595.30,345.41 L596.30,345.77 L597.30,346.13 L598.30,346.49 L599.30,346.86 L600.30,347.22 L601.30,347.58 L602.30,347.95 L603.30,348.32 L604.30,348.68 L605.30,349.05 L606.30,349.42 L607.30,349.79 L608.30,350.15 L609.30,350.52 L610.30,350.89 L611.30,351.26 L612.30,351.63 L613.30,352.01 L614.30,352.38 L615.30,352.75 L616.30,353.12 L617.30,353.49 L618.30,353.87 L619.30,354.25 L620.30,354.62 L621.30,355.00 L622.30,355.38 L623.30,355.76 L624.30,356.14 L625.30,356.52 L626.30,356.90 L627.30,357.28 L628.30,357.66 L629.30,358.04 L630.30,358.42 L631.30,358.80 L632.30,359.18 L633.30,359.56 L634.30,359.94 L635.30,360.32 L636.30,360.69 L637.30,361.07 L638.30,361.45 L639.30,361.83 L640.30,362.21 L641.30,362.59 L642.30,362.97 L643.30,363.34 L644.30,363.72 L645.30,364.10 L646.30,364.48 L647.30,364.86 L648.30,365.24 L649.30,365.62 L650.30,365.99 L651.30,366.37 L652.30,366.75 L653.30,367.13 L654.30,367.50 L655.30,367.88 L656.30,368.25 L657.30,368.63 L658.30,369.00 L659.30,369.38 L660.30,369.75 L661.30,370.12 L662.30,370.49 L663.30,370.86 L664.30,371.23 L665.30,371.60 L666.30,371.98 L667.30,372.35 L668.30,372.72 L669.30,373.08 L670.30,373.45 L671.30,373.82 L672.30,374.19 L673.30,374.56 L674.30,374.93 L675.30,375.29 L676.30,375.66 L677.30,376.02 L678.30,376.39 L679.30,376.75 L680.30,377.11 L681.30,377.47 L682.30,377.84 L683.30,378.20 L684.30,378.56 L685.30,378.91 L686.30,379.27 L687.30,379.63 L688.30,379.98 L689.30,380.33 L690.30,380.69 L691.30,381.04 L692.30,381.39 L693.30,381.74 L694.30,382.08 L695.30,382.43 L696.30,382.78 L697.30,383.13 L698.30,383.47 L699.30,383.82 L700.30,384.16 L701.30,384.51 L702.30,384.85 L703.30,385.20 L704.30,385.55 L705.30,385.89 L706.30,386.24 L707.30,386.59 L708.30,386.93 L709.30,387.28 L710.30,387.63 L711.30,387.98 L712.30,388.33 L713.30,388.68 L714.30,389.04 L715.30,389.39 L716.30,389.74 L717.30,390.09 L718.30,390.44 L719.30,390.80 L720.30,391.15 L721.30,391.50 L722.30,391.86 L723.30,392.21 L724.30,392.56 L725.30,392.92 L726.30,393.27 L727.30,393.62 L728.30,393.98 L729.30,394.33 L730.30,394.68 L731.30,395.04 L732.30,395.39 L733.30,395.74 L734.30,396.09 L735.30,396.44 L736.30,396.80 L737.30,397.15 L738.30,397.50 L739.30,397.85 L740.30,398.20 L741.30,398.55 L742.30,398.90 L743.30,399.25 L744.30,399.61 L745.30,399.96 L746.30,400.31 L747.30,400.66 L748.30,401.01 L749.30,401.36 L750.30,401.71 L751.30,402.06 L752.30,402.41 L753.30,402.76 L754.30,403.11 L755.30,403.46 L756.30,403.81 L757.30,404.16 L758.30,404.51 L759.30,404.86 L760.30,405.21 L761.30,405.56 L762.30,405.91 L763.30,406.26 L764.30,406.61 L765.30,406.96 L766.30,407.30 L767.30,407.65 L768.30,408.00 L769.30,408.35 L770.30,408.70 L771.30,409.05 L772.30,409.40 L773.30,409.75 L773.60,409.85" stroke="#ffa500" stroke-dasharray="3.9 4.6"/>
<path class="c" d="M139.50,167.00 L140.50,166.17 L141.50,165.34 L142.50,164.52 L143.50,163.70 L144.50,162.88 L145.50,162.01 L146.50,161.05 L147.50,160.13 L148.50,159.33 L149.50,158.77 L150.50,158.45 L151.50,158.17 L152.50,157.92 L153.50,157.70 L154.50,157.50 L155.50,157.33 L156.50,157.18 L157.50,157.04 L158.50,156.92 L159.50,156.80 L160.50,156.70 L161.50,156.59 L162.50,156.48 L163.50,156.38 L164.50,156.29 L165.50,156.20 L166.50,156.13 L167.50,156.07 L168.50,156.03 L169.50,156.00 L170.50,156.00 L171.50,156.01 L172.50,156.02 L173.50,156.05 L174.50,156.07 L175.50,156.11 L176.50,156.15 L177.50,156.19 L178.50,156.24 L179.50,156.30 L180.50,156.36 L181.50,156.42 L182.50,156.48 L183.50,156.55 L184.50,156.61 L185.50,156.68 L186.50,156.75 L187.50,156.82 L188.50,156.90 L189.50,156.97 L190.50,157.04 L191.50,157.11 L192.50,157.19 L193.50,157.28 L194.50,157.37 L195.50,157.47 L196.50,157.57 L197.50,157.68 L198.50,157.79 L199.50,157.91 L200.50,158.03 L201.50,158.15 L202.50,158.27 L203.50,158.40 L204.50,158.52 L205.50,158.65 L206.50,158.79 L207.50,158.92 L208.50,159.05 L209.50,159.18 L210.50,159.32 L211.50,159.45 L212.50,159.59 L213.50,159.74 L214.50,159.88 L215.50,160.03 L216.50,160.18 L217.50,160.34 L218.50,160.49 L219.50,160.65 L220.50,160.82 L221.50,160.98 L222.50,161.15 L223.50,161.32 L224.50,161.50 L225.50,161.67 L226.50,161.85 L227.50,162.04 L228.50,162.22 L229.50,162.41 L230.50,162.59 L231.50,162.79 L232.50,162.99 L233.50,163.19 L234.50,163.40 L235.50,163.61 L236.50,163.82 L237.50,164.04 L238.50,164.26 L239.50,164.49 L240.50,164.72 L241.50,164.95 L242.50,165.18 L243.50,165.42 L244.50,165.66 L245.50,165.90 L246.50,166.14 L247.50,166.38 L248.50,166.63 L249.50,166.88 L250.50,167.12 L251.50,167.38 L252.50,167.63 L253.50,167.90 L254.50,168.16 L255.50,168.43 L256.50,168.71 L257.50,168.98 L258.50,169.26 L259.50,169.54 L260.50,169.82 L261.50,170.11 L262.50,170.39 L263.50,170.67 L264.50,170.96 L265.50,171.24 L266.50,171.52 L267.50,171.80 L268.50,172.08 L269.50,172.36 L270.50,172.64 L271.50,172.91 L272.50,173.19 L273.50,173.47 L274.50,173.75 L275.50,174.02 L276.50,174.30 L277.50,174.58 L278.50,174.86 L279.50,175.14 L280.50,175.41 L281.50,175.69 L282.50,175.97 L283.50,176.24 L284.50,176.52 L285.50,176.79 L286.50,177.06 L287.50,177.33 L288.50,177.60 L289.50,177.87 L290.50,178.13 L291.50,178.39 L292.50,178.65 L293.50,178.90 L294.50,179.15 L295.50,179.39 L296.50,179.64 L297.50,179.88 L298.50,180.12 L299.50,180.36 L300.50,180.61 L301.50,180.85 L302.50,181.09 L303.50,181.34 L304.50,181.59 L305.50,181.84 L306.50,182.10 L307.50,182.36 L308.50,182.62 L309.50,182.90 L310.50,183.17 L311.50,183.46 L312.50,183.75 L313.50,184.07 L314.50,184.42 L315.50,184.78 L316.50,185.15 L317.50,185.51 L318.50,185.84 L319.50,186.13 L320.50,186.36 L321.50,186.58 L322.50,186.79 L323.50,186.98 L324.50,187.17 L325.50,187.35 L326.50,187.52 L327.50,187.68 L328.50,187.84 L329.50,187.99 L330.50,188.13 L331.50,188.28 L332.50,188.42 L333.50,188.56 L334.50,188.70 L335.50,188.84 L336.50,188.98 L337.50,189.12 L338.50,189.27 L339.50,189.42 L340.50,189.58 L341.50,189.73 L342.50,189.88 L343.50,190.03 L344.50,190.18 L345.50,190.33 L346.50,190.48 L347.50,190.62 L348.50,190.76 L349.50,190.91 L350.50,191.05 L351.50,191.20 L352.50,191.34 L353.50,191.48 L354.50,191.63 L355.50,191.77 L356.50,191.92 L357.50,192.07 L358.50,192.22 L359.50,192.37 L360.50,192.53 L361.50,192.68 L362.50,192.84 L363.50,193.00 L364.50,193.17 L365.50,193.33 L366.50,193.50 L367.50,193.67 L368.50,193.84 L369.50,194.02 L370.50,194.19 L371.50,194.36 L372.50,194.54 L373.50,194.72 L374.50,194.90 L375.50,195.08 L376.50,195.26 L377.50,195.45 L378.50,195.64 L379.50,195.83 L380.50,196.02 L381.50,196.22 L382.50,196.42 L383.50,196.62 L384.50,196.82 L385.50,197.03 L386.50,197.24 L387.50,197.45 L388.50,197.67 L389.50,197.89 L390.50,198.11 L391.50,198.34 L392.50,198.57 L393.50,198.80 L394.50,199.05 L395.50,199.29 L396.50,199.55 L397.50,199.81 L398.50,200.08 L399.50,200.35 L400.50,200.64 L401.50,200.94 L402.50,201.25 L403.50,201.57 L404.50,201.91 L405.50,202.27 L406.50,202.64 L407.50,203.03 L408.50,203.42 L409.50,203.83 L410.50,204.25 L411.50,204.68 L412.50,205.12 L413.50,205.57 L414.50,206.02 L415.50,206.48 L416.50,206.96 L417.50,207.46 L418.50,207.97 L419.50,208.50 L420.50,209.04 L421.50,209.59 L422.50,210.15 L423.50,210.72 L424.50,211.29 L425.50,211.86 L426.50,212.43 L427.50,213.00 L428.50,213.57 L429.50,214.13 L430.50,214.69 L431.50,215.25 L432.50,215.81 L433.50,216.39 L434.50,216.97 L435.50,217.57 L436.50,218.18 L437.50,218.82 L438.50,219.47 L439.50,220.15 L440.50,220.86 L441.50,221.61 L442.50,222.40 L443.50,223.22 L444.50,224.07 L445.50,224.94 L446.50,225.83 L447.50,226.73 L448.50,227.64 L449.50,228.55 L450.50,229.46 L451.50,230.36 L452.50,231.25 L453.50,232.13 L454.50,233.01 L455.50,233.89 L456.50,234.78 L457.50,235.67 L458.50,236.56 L459.50,237.45 L460.50,238.36 L461.50,239.26 L462.50,240.18 L463.50,241.10 L464.50,242.03 L465.50,242.97 L466.50,243.92 L467.50,244.87 L468.50,245.83 L469.50,246.80 L470.50,247.78 L471.50,248.75 L472.50,249.74 L473.50,250.73 L474.50,251.72 L475.50,252.72 L476.50,253.72 L477.50,254.72 L478.50,255.73 L479.50,256.74 L480.50,257.75 L481.50,258.76 L482.50,259.77 L483.50,260.78 L484.50,261.80 L485.50,262.81 L486.50,263.82 L487.50,264.83 L488.50,265.84 L489.50,266.84 L490.50,267.85 L491.50,268.85 L492.50,269.86 L493.50,270.88 L494.50,271.89 L495.50,272.91 L496.50,273.93 L497.50,274.94 L498.50,275.96 L499.50,276.98 L500.50,278.00 L501.50,279.01 L502.50,280.03 L503.50,281.04 L504.50,282.05 L505.50,283.05 L506.50,284.05 L507.50,285.05 L508.50,286.04 L509.50,287.04 L510.50,288.03 L511.50,289.01 L512.50,290.00 L513.50,290.98 L514.50,291.96 L515.50,292.94 L516.50,293.92 L517.50,294.89 L518.50,295.86 L519.50,296.83 L520.50,297.80 L521.50,298.76 L522.50,299.72 L523.50,300.68 L524.50,301.64 L525.50,302.58 L526.50,303.53 L527.50,304.47 L528.50,305.41 L529.50,306.35 L530.50,307.29 L531.50,308.23 L532.50,309.16 L533.50,310.10 L534.50,311.04 L535.50,311.97 L536.50,312.91 L537.50,313.86 L538.50,314.80 L539.50,315.75 L540.50,316.70 L541.50,317.65 L542.50,318.61 L543.50,319.56 L544.50,320.52 L545.50,321.48 L546.50,322.44 L547.50,323.39 L548.50,324.35 L549.50,325.32 L550.50,326.28 L551.50,327.24 L552.50,328.20 L553.50,329.17 L554.50,330.13 L555.50,331.10 L556.50,332.06 L557.50,333.03 L558.50,334.00 L559.50,334.97 L560.50,335.94 L561.50,336.91 L562.50,337.88 L563.50,338.85 L564.50,339.82 L565.50,340.80 L566.50,341.77 L567.50,342.75 L568.50,343.73 L569.50,344.72 L570.50,345.70 L571.50,346.69 L572.50,347.68 L573.50,348.67 L574.50,349.66 L575.50,350.65 L576.50,351.64 L577.50,352.63 L578.50,353.62 L579.50,354.61 L580.50,355.60 L581.50,356.59 L582.50,357.57 L583.50,358.56 L584.50,359.54 L585.50,360.52 L586.50,361.49 L587.50,362.46 L588.50,363.43 L589.50,364.40 L590.50,365.36 L591.50,366.32 L592.50,367.28 L593.50,368.24 L594.50,369.19 L595.50,370.15 L596.50,371.11 L597.50,372.06 L598.50,373.01 L599.50,373.96 L600.50,374.91 L601.50,375.86 L602.50,376.80 L603.50,377.75 L604.50,378.69 L605.50,379.62 L606.50,380.56 L607.50,381.49 L608.50,382.41 L609.50,383.34 L610.50,384.26 L611.50,385.18 L612.50,386.09 L613.50,387.00 L614.50,387.90 L615.50,388.80 L616.50,389.69 L617.50,390.58 L618.50,391.47 L619.50,392.35 L620.50,393.23 L621.50,394.10 L622.50,394.97 L623.50,395.84 L624.50,396.70 L625.50,397.56 L626.50,398.42 L627.50,399.28 L628.50,400.13 L629.50,400.99 L630.50,401.84 L631.50,402.69 L632.50,403.54 L633.50,404.39 L634.50,405.24 L635.50,406.10 L636.50,406.95 L637.50,407.80 L638.50,408.64 L639.50,409.49 L640.50,410.33 L641.50,411.17 L642.50,412.01 L643.50,412.85 L644.50,413.68 L645.50,414.52 L646.50,415.35 L647.50,416.19 L648.50,417.02 L649.50,417.85 L650.50,418.69 L651.50,419.52 L652.50,420.35 L653.50,421.19 L654.50,422.02 L655.50,422.86 L656.50,423.69 L657.50,424.53 L658.50,425.37 L659.50,426.21 L660.50,427.05 L661.50,427.89 L662.50,428.74 L663.50,429.58 L664.50,430.43 L665.50,431.27 L666.50,432.12 L667.50,432.97 L668.50,433.81 L669.50,434.66 L670.50,435.51 L671.50,436.36 L672.50,437.21 L673.50,438.06 L674.50,438.91 L675.50,439.76 L676.50,440.61 L677.50,441.46 L678.50,442.31 L679.50,443.17 L680.50,444.02 L681.50,444.87 L682.50,445.72 L683.50,446.58 L684.50,447.43 L685.50,448.29 L686.50,449.14 L687.50,449.99 L688.50,450.85 L689.50,451.70 L690.50,452.56 L691.50,453.41 L692.50,454.27 L693.50,455.12 L694.50,455.98 L695.50,456.83 L696.50,457.69 L697.50,458.55 L698.50,459.40 L699.50,460.26 L700.50,461.12 L701.50,461.98 L702.50,462.84 L703.50,463.70 L704.50,464.56 L705.50,465.43 L706.50,466.29 L707.50,467.16 L708.50,468.02 L709.50,468.89 L710.50,469.76 L711.50,470.63 L712.50,471.50 L713.50,472.38 L714.50,473.25 L715.50,474.13 L716.50,475.01 L717.50,475.89 L718.50,476.77 L719.50,477.66 L720.50,478.54 L721.50,479.42 L722.50,480.31 L723.50,481.19 L724.50,482.08 L725.50,482.96 L725.54,483.00" stroke="#ff0000" stroke-dasharray="20.9 6.2 3.9 6.2"/>
</g>
<path d="M139.40,164.5V189.25 M136.10,164.5h6.6 M136.10,189.25h6.6 M149.47,141.25V157 M146.16,141.25h6.6 M146.16,157h6.6 M159.53,138V153 M156.23,138h6.6 M156.23,153h6.6 M169.59,131.5V144.5 M166.29,131.5h6.6 M166.29,144.5h6.6 M179.66,133.75V147.5 M176.36,133.75h6.6 M176.36,147.5h6.6 M189.72,128V140 M186.42,128h6.6 M186.42,140h6.6 M199.79,133.75V146.75 M196.49,133.75h6.6 M196.49,146.75h6.6 M209.86,135.5V149.25 M206.56,135.5h6.6 M206.56,149.25h6.6 M219.92,137.5V150.5 M216.62,137.5h6.6 M216.62,150.5h6.6 M229.99,138V150.5 M226.69,138h6.6 M226.69,150.5h6.6 M240.05,139.5V152.5 M236.75,139.5h6.6 M236.75,152.5h6.6 M250.12,146.5V160.75 M246.81,146.5h6.6 M246.81,160.75h6.6 M260.18,145V157 M256.88,145h6.6 M256.88,157h6.6 M270.25,152V165.75 M266.94,152h6.6 M266.94,165.75h6.6 M280.31,152V163.75 M277.01,152h6.6 M277.01,163.75h6.6 M290.38,155V167 M287.07,155h6.6 M287.07,167h6.6 M300.44,157V168.25 M297.14,157h6.6 M297.14,168.25h6.6 M310.50,166.25V178.75 M307.20,166.25h6.6 M307.20,178.75h6.6 M320.57,170.9V183.2 M317.27,170.9h6.6 M317.27,183.2h6.6 M330.63,167.3V177.8 M327.33,167.3h6.6 M327.33,177.8h6.6 M340.70,170.75V182 M337.40,170.75h6.6 M337.40,182h6.6 M350.76,168V178 M347.46,168h6.6 M347.46,178h6.6 M360.83,170V180 M357.53,170h6.6 M357.53,180h6.6 M370.89,169.25V177 M367.59,169.25h6.6 M367.59,177h6.6 M380.96,166V172.5 M377.66,166h6.6 M377.66,172.5h6.6 M391.02,165V171 M387.72,165h6.6 M387.72,171h6.6 M401.09,165V171 M397.79,165h6.6 M397.79,171h6.6 M411.15,169.5V175.5 M407.85,169.5h6.6 M407.85,175.5h6.6 M421.22,178V184.5 M417.92,178h6.6 M417.92,184.5h6.6 M431.28,182.5V189 M427.98,182.5h6.6 M427.98,189h6.6 M441.35,199.25V210 M438.05,199.25h6.6 M438.05,210h6.6 M451.41,206.25V218 M448.11,206.25h6.6 M448.11,218h6.6 M461.48,213.75V225 M458.18,213.75h6.6 M458.18,225h6.6 M471.54,219.5V231.75 M468.24,219.5h6.6 M468.24,231.75h6.6 M481.61,226.8V239.8 M478.31,226.8h6.6 M478.31,239.8h6.6 M491.67,230.3V243.6 M488.37,230.3h6.6 M488.37,243.6h6.6 M501.74,231.75V243.25 M498.44,231.75h6.6 M498.44,243.25h6.6 M511.80,237.5V250.75 M508.50,237.5h6.6 M508.50,250.75h6.6 M521.87,241.75V258 M518.57,241.75h6.6 M518.57,258h6.6 M531.93,245V262.5 M528.63,245h6.6 M528.63,262.5h6.6 M542.00,255V276.75 M538.70,255h6.6 M538.70,276.75h6.6 M552.06,253.75V270 M548.76,253.75h6.6 M548.76,270h6.6 M562.13,261.75V278.25 M558.83,261.75h6.6 M558.83,278.25h6.6 M572.19,264.25V280.5 M568.89,264.25h6.6 M568.89,280.5h6.6 M582.26,272V290.75 M578.96,272h6.6 M578.96,290.75h6.6 M592.32,269.25V284.25 M589.02,269.25h6.6 M589.02,284.25h6.6 M602.39,283.5V305.5 M599.09,283.5h6.6 M599.09,305.5h6.6 M612.45,283.5V302.5 M609.15,283.5h6.6 M609.15,302.5h6.6 M622.52,280V296.25 M619.22,280h6.6 M619.22,296.25h6.6 M632.59,288.75V307.5 M629.29,288.75h6.6 M629.29,307.5h6.6 M642.65,294V315.75 M639.35,294h6.6 M639.35,315.75h6.6 M652.71,292V309.5 M649.41,292h6.6 M649.41,309.5h6.6 M662.78,312.5V343 M659.48,312.5h6.6 M659.48,343h6.6 M672.84,306.75V331.25 M669.54,306.75h6.6 M669.54,331.25h6.6" stroke="#000" stroke-width="1.55" fill="none"/>
<g fill="#000"><circle cx="139.40" cy="175" r="4.2"/><circle cx="149.47" cy="148.25" r="4.2"/><circle cx="159.53" cy="145" r="4.2"/><circle cx="169.59" cy="138" r="4.2"/><circle cx="179.66" cy="140" r="4.2"/><circle cx="189.72" cy="133.75" r="4.2"/><circle cx="199.79" cy="140" r="4.2"/><circle cx="209.86" cy="142" r="4.2"/><circle cx="219.92" cy="143.75" r="4.2"/><circle cx="229.99" cy="144.25" r="4.2"/><circle cx="240.05" cy="145.75" r="4.2"/><circle cx="250.12" cy="153.25" r="4.2"/><circle cx="260.18" cy="150.75" r="4.2"/><circle cx="270.25" cy="158.75" r="4.2"/><circle cx="280.31" cy="158" r="4.2"/><circle cx="290.38" cy="160.75" r="4.2"/><circle cx="300.44" cy="162.5" r="4.2"/><circle cx="310.50" cy="172.5" r="4.2"/><circle cx="320.57" cy="176.1" r="4.2"/><circle cx="330.63" cy="172.5" r="4.2"/><circle cx="340.70" cy="176.25" r="4.2"/><circle cx="350.76" cy="173" r="4.2"/><circle cx="360.83" cy="175" r="4.2"/><circle cx="370.89" cy="173.25" r="4.2"/><circle cx="380.96" cy="169.25" r="4.2"/><circle cx="391.02" cy="168" r="4.2"/><circle cx="401.09" cy="168" r="4.2"/><circle cx="411.15" cy="172.5" r="4.2"/><circle cx="421.22" cy="181.25" r="4.2"/><circle cx="431.28" cy="185.75" r="4.2"/><circle cx="441.35" cy="204.25" r="4.2"/><circle cx="451.41" cy="212" r="4.2"/><circle cx="461.48" cy="219.25" r="4.2"/><circle cx="471.54" cy="225" r="4.2"/><circle cx="481.61" cy="232.8" r="4.2"/><circle cx="491.67" cy="236.8" r="4.2"/><circle cx="501.74" cy="237.5" r="4.2"/><circle cx="511.80" cy="243.75" r="4.2"/><circle cx="521.87" cy="249.25" r="4.2"/><circle cx="531.93" cy="253.25" r="4.2"/><circle cx="542.00" cy="264.5" r="4.2"/><circle cx="552.06" cy="261.25" r="4.2"/><circle cx="562.13" cy="268.75" r="4.2"/><circle cx="572.19" cy="272" r="4.2"/><circle cx="582.26" cy="280.75" r="4.2"/><circle cx="592.32" cy="276.25" r="4.2"/><circle cx="602.39" cy="293.25" r="4.2"/><circle cx="612.45" cy="292.5" r="4.2"/><circle cx="622.52" cy="288" r="4.2"/><circle cx="632.59" cy="296.75" r="4.2"/><circle cx="642.65" cy="303.25" r="4.2"/><circle cx="652.71" cy="300" r="4.2"/><circle cx="662.78" cy="324.5" r="4.2"/><circle cx="672.84" cy="317" r="4.2"/></g>
<rect x="124.4" y="2.0" width="654.3000000000001" height="481.0" fill="none" stroke="#000" stroke-width="1.35"/>
<text x="676.3" y="27.70" text-anchor="end">NA60</text>
<path d="M690.0,20.5H751.9 M690.0,17.2v6.6 M751.9,17.2v6.6" stroke="#000" stroke-width="1.55" fill="none"/>
<circle cx="720.95" cy="20.5" r="4.2" fill="#000"/>
<text x="676.3" y="50.35" text-anchor="end">in-med ρ</text>
<path class="c" d="M690.0,43.07H751.9" stroke="#ff0000" stroke-dasharray="20.9 6.2 3.9 6.2"/>
<text x="676.3" y="73.00" text-anchor="end">QGP</text>
<path class="c" d="M690.0,65.64H751.9" stroke="#ffa500" stroke-dasharray="3.9 4.6"/>
<text x="676.3" y="95.65" text-anchor="end">prim ρ</text>
<path class="c" d="M690.0,88.21H751.9" stroke="#000" stroke-dasharray="7 10"/>
<text x="676.3" y="118.30" text-anchor="end">FO ρ</text>
<path class="c" d="M690.0,110.78H751.9" stroke="#000"/>
<text x="676.3" y="140.95" text-anchor="end">4π mix</text>
<path class="c" d="M690.0,133.35H751.9" stroke="#0000ff" stroke-dasharray="13.9 6.5"/>
<text x="676.3" y="163.60" text-anchor="end">DY</text>
<path class="c" d="M690.0,155.92H751.9" stroke="#008b8b"/>
<text x="676.3" y="186.25" text-anchor="end">ϕ</text>
<path class="c" d="M690.0,178.49H751.9" stroke="#228b22"/>
<text x="676.3" y="208.90" text-anchor="end">ω</text>
<path class="c" d="M690.0,201.06H751.9" stroke="#a52a2a" stroke-dasharray="13.9 6.5"/>
<text x="676.3" y="231.55" text-anchor="end">ω-t ex</text>
<path class="c" d="M690.0,223.63H751.9" stroke="#008b8b" stroke-dasharray="13.9 6.5"/>
<text x="676.3" y="254.20" text-anchor="end">total</text>
<path class="c" d="M690.0,246.20H751.9" stroke="#a020f0"/>
<text x="676.3" y="276.85" text-anchor="end">+ω-t ex</text>
<path class="c" d="M690.0,268.77H751.9" stroke="#a020f0" stroke-dasharray="10.3 10.1 3.6 10.1"/>
<text x="126.90" y="512.5" text-anchor="middle">0.2</text>
<text x="227.56" y="512.5" text-anchor="middle">0.4</text>
<text x="328.22" y="512.5" text-anchor="middle">0.6</text>
<text x="428.88" y="512.5" text-anchor="middle">0.8</text>
<text x="529.55" y="512.5" text-anchor="middle">1</text>
<text x="630.21" y="512.5" text-anchor="middle">1.2</text>
<text x="730.87" y="512.5" text-anchor="middle">1.4</text>
<text x="110.6" y="426.26" text-anchor="end">10<tspan dx="-1" dy="-10.4" font-size="18.16px">-9</tspan></text>
<text x="110.6" y="330.06" text-anchor="end">10<tspan dx="-1" dy="-10.4" font-size="18.16px">-8</tspan></text>
<text x="110.6" y="233.86" text-anchor="end">10<tspan dx="-1" dy="-10.4" font-size="18.16px">-7</tspan></text>
<text x="110.6" y="137.66" text-anchor="end">10<tspan dx="-1" dy="-10.4" font-size="18.16px">-6</tspan></text>
<text x="110.6" y="41.46" text-anchor="end">10<tspan dx="-1" dy="-10.4" font-size="18.16px">-5</tspan></text>
<text x="451.5" y="535.0" text-anchor="middle">M (GeV)</text>
<text transform="translate(52.4,242.0) rotate(-90)" text-anchor="middle">(1/N<tspan dy="6.8" font-size="18.16px">ch</tspan><tspan dy="-6.8">) d</tspan><tspan dy="-10.4" font-size="18.16px">2</tspan><tspan dy="10.4">N</tspan><tspan dy="6.8" font-size="18.16px">μμ</tspan><tspan dy="-6.8">/(dM dη) (20 MeV)</tspan><tspan dy="-10.4" font-size="18.16px">-1</tspan></text>
<text x="149.2" y="30.7">T<tspan dy="6.8" font-size="18.16px">c</tspan><tspan dy="-6.8">=T</tspan><tspan dy="6.8" font-size="18.16px">ch</tspan><tspan dy="-6.8">=175 MeV, a</tspan><tspan dy="6.8" font-size="18.16px">t</tspan><tspan dy="-6.8">=0.1 c</tspan><tspan dy="-10.4" font-size="18.16px">2</tspan><tspan dy="10.4">/fm</tspan></text>
<text x="149.2" y="60.6">all q<tspan dy="6.8" font-size="18.16px">T</tspan></text>
</svg></body></html>
